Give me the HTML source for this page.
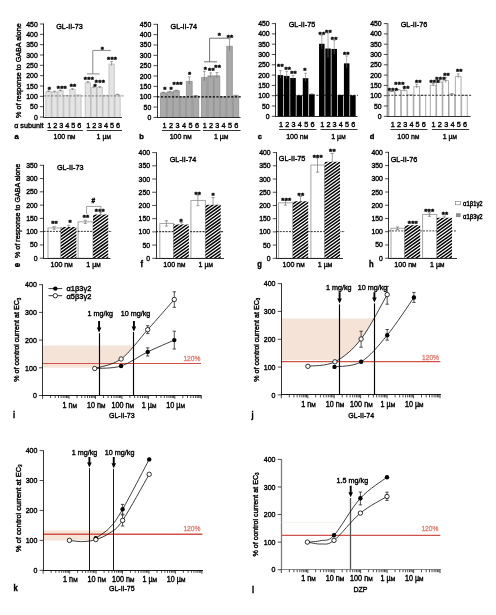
<!DOCTYPE html>
<html lang="en"><head><meta charset="utf-8"><title>Figure</title>
<style>
html,body{margin:0;padding:0;background:#fff;}
body{width:496px;height:615px;overflow:hidden;}
svg{display:block;font-family:'Liberation Sans', Arial, sans-serif;}
</style></head>
<body>
<svg width="496" height="615" viewBox="0 0 496 615" font-family="Liberation Sans, Arial, sans-serif">
<rect width="496" height="615" fill="#fff"/>
<!-- row 1 -->
<rect x="45.90" y="91.58" width="5.37" height="25.42" fill="#e4e4e4" stroke="none" stroke-width="0.6" />
<path d="M45.90 117.00V91.58H51.27V117.00" fill="none" stroke="#a8a8a8" stroke-width="0.6"/>
<line x1="48.58" y1="90.96" x2="48.58" y2="91.95" stroke="#666" stroke-width="0.6" />
<line x1="47.18" y1="90.96" x2="49.98" y2="90.96" stroke="#666" stroke-width="0.6" />
<rect x="51.87" y="91.99" width="5.37" height="25.01" fill="#e4e4e4" stroke="none" stroke-width="0.6" />
<path d="M51.87 117.00V91.99H57.23V117.00" fill="none" stroke="#a8a8a8" stroke-width="0.6"/>
<line x1="54.55" y1="91.17" x2="54.55" y2="92.49" stroke="#666" stroke-width="0.6" />
<line x1="53.15" y1="91.17" x2="55.95" y2="91.17" stroke="#666" stroke-width="0.6" />
<rect x="57.83" y="90.75" width="5.37" height="26.25" fill="#e4e4e4" stroke="none" stroke-width="0.6" />
<path d="M57.83 117.00V90.75H63.20V117.00" fill="none" stroke="#a8a8a8" stroke-width="0.6"/>
<line x1="60.52" y1="90.13" x2="60.52" y2="91.13" stroke="#666" stroke-width="0.6" />
<line x1="59.12" y1="90.13" x2="61.92" y2="90.13" stroke="#666" stroke-width="0.6" />
<rect x="63.80" y="95.51" width="5.37" height="21.49" fill="#e4e4e4" stroke="none" stroke-width="0.6" />
<path d="M63.80 117.00V95.51H69.17V117.00" fill="none" stroke="#a8a8a8" stroke-width="0.6"/>
<rect x="69.77" y="89.51" width="5.37" height="27.49" fill="#e4e4e4" stroke="none" stroke-width="0.6" />
<path d="M69.77 117.00V89.51H75.13V117.00" fill="none" stroke="#a8a8a8" stroke-width="0.6"/>
<line x1="72.45" y1="88.69" x2="72.45" y2="90.01" stroke="#666" stroke-width="0.6" />
<line x1="71.05" y1="88.69" x2="73.85" y2="88.69" stroke="#666" stroke-width="0.6" />
<rect x="75.73" y="94.89" width="5.37" height="22.11" fill="#e4e4e4" stroke="none" stroke-width="0.6" />
<path d="M75.73 117.00V94.89H81.10V117.00" fill="none" stroke="#a8a8a8" stroke-width="0.6"/>
<rect x="85.20" y="82.69" width="5.33" height="34.31" fill="#e4e4e4" stroke="none" stroke-width="0.6" />
<path d="M85.20 117.00V82.69H90.53V117.00" fill="none" stroke="#a8a8a8" stroke-width="0.6"/>
<line x1="87.87" y1="81.66" x2="87.87" y2="83.31" stroke="#666" stroke-width="0.6" />
<line x1="86.47" y1="81.66" x2="89.27" y2="81.66" stroke="#666" stroke-width="0.6" />
<rect x="91.13" y="87.45" width="5.33" height="29.55" fill="#e4e4e4" stroke="none" stroke-width="0.6" />
<path d="M91.13 117.00V87.45H96.47V117.00" fill="none" stroke="#a8a8a8" stroke-width="0.6"/>
<line x1="93.80" y1="86.21" x2="93.80" y2="88.19" stroke="#666" stroke-width="0.6" />
<line x1="92.40" y1="86.21" x2="95.20" y2="86.21" stroke="#666" stroke-width="0.6" />
<rect x="97.07" y="87.45" width="5.33" height="29.55" fill="#e4e4e4" stroke="none" stroke-width="0.6" />
<path d="M97.07 117.00V87.45H102.40V117.00" fill="none" stroke="#a8a8a8" stroke-width="0.6"/>
<line x1="99.73" y1="86.62" x2="99.73" y2="87.94" stroke="#666" stroke-width="0.6" />
<line x1="98.33" y1="86.62" x2="101.13" y2="86.62" stroke="#666" stroke-width="0.6" />
<rect x="103.00" y="95.30" width="5.33" height="21.70" fill="#e4e4e4" stroke="none" stroke-width="0.6" />
<path d="M103.00 117.00V95.30H108.33V117.00" fill="none" stroke="#a8a8a8" stroke-width="0.6"/>
<rect x="108.93" y="64.09" width="5.33" height="52.91" fill="#e4e4e4" stroke="none" stroke-width="0.6" />
<path d="M108.93 117.00V64.09H114.27V117.00" fill="none" stroke="#a8a8a8" stroke-width="0.6"/>
<line x1="111.60" y1="61.61" x2="111.60" y2="65.58" stroke="#666" stroke-width="0.6" />
<line x1="110.20" y1="61.61" x2="113.00" y2="61.61" stroke="#666" stroke-width="0.6" />
<rect x="114.87" y="94.68" width="5.33" height="22.32" fill="#e4e4e4" stroke="none" stroke-width="0.6" />
<path d="M114.87 117.00V94.68H120.20V117.00" fill="none" stroke="#a8a8a8" stroke-width="0.6"/>
<line x1="117.53" y1="94.27" x2="117.53" y2="94.93" stroke="#666" stroke-width="0.6" />
<line x1="116.13" y1="94.27" x2="118.93" y2="94.27" stroke="#666" stroke-width="0.6" />
<line x1="43.70" y1="95.92" x2="123.50" y2="95.92" stroke="#444" stroke-width="0.65" stroke-dasharray="2.2 1.5"/>
<line x1="43.50" y1="23.60" x2="43.50" y2="117.40" stroke="#000" stroke-width="0.8" />
<line x1="43.30" y1="117.50" x2="122.00" y2="117.50" stroke="#000" stroke-width="0.8" />
<line x1="39.90" y1="117.00" x2="43.70" y2="117.00" stroke="#000" stroke-width="0.7" />
<text transform="translate(37.70,119.50) scale(0.88,1)" font-size="7.8" text-anchor="end" font-weight="normal" fill="#000" stroke="#000" stroke-width="0.4" >0</text>
<line x1="39.90" y1="106.67" x2="43.70" y2="106.67" stroke="#000" stroke-width="0.7" />
<text transform="translate(37.70,109.17) scale(0.88,1)" font-size="7.8" text-anchor="end" font-weight="normal" fill="#000" stroke="#000" stroke-width="0.4" >50</text>
<line x1="39.90" y1="96.33" x2="43.70" y2="96.33" stroke="#000" stroke-width="0.7" />
<text transform="translate(37.70,98.83) scale(0.88,1)" font-size="7.8" text-anchor="end" font-weight="normal" fill="#000" stroke="#000" stroke-width="0.4" >100</text>
<line x1="39.90" y1="86.00" x2="43.70" y2="86.00" stroke="#000" stroke-width="0.7" />
<text transform="translate(37.70,88.50) scale(0.88,1)" font-size="7.8" text-anchor="end" font-weight="normal" fill="#000" stroke="#000" stroke-width="0.4" >150</text>
<line x1="39.90" y1="75.67" x2="43.70" y2="75.67" stroke="#000" stroke-width="0.7" />
<text transform="translate(37.70,78.17) scale(0.88,1)" font-size="7.8" text-anchor="end" font-weight="normal" fill="#000" stroke="#000" stroke-width="0.4" >200</text>
<line x1="39.90" y1="65.33" x2="43.70" y2="65.33" stroke="#000" stroke-width="0.7" />
<text transform="translate(37.70,67.83) scale(0.88,1)" font-size="7.8" text-anchor="end" font-weight="normal" fill="#000" stroke="#000" stroke-width="0.4" >250</text>
<line x1="39.90" y1="55.00" x2="43.70" y2="55.00" stroke="#000" stroke-width="0.7" />
<text transform="translate(37.70,57.50) scale(0.88,1)" font-size="7.8" text-anchor="end" font-weight="normal" fill="#000" stroke="#000" stroke-width="0.4" >300</text>
<line x1="39.90" y1="44.67" x2="43.70" y2="44.67" stroke="#000" stroke-width="0.7" />
<text transform="translate(37.70,47.17) scale(0.88,1)" font-size="7.8" text-anchor="end" font-weight="normal" fill="#000" stroke="#000" stroke-width="0.4" >350</text>
<line x1="39.90" y1="34.33" x2="43.70" y2="34.33" stroke="#000" stroke-width="0.7" />
<text transform="translate(37.70,36.83) scale(0.88,1)" font-size="7.8" text-anchor="end" font-weight="normal" fill="#000" stroke="#000" stroke-width="0.4" >400</text>
<line x1="39.90" y1="24.00" x2="43.70" y2="24.00" stroke="#000" stroke-width="0.7" />
<text transform="translate(37.70,26.50) scale(0.88,1)" font-size="7.8" text-anchor="end" font-weight="normal" fill="#000" stroke="#000" stroke-width="0.4" >450</text>
<text transform="translate(69.50,29.00) scale(0.93,1)" font-size="7.8" text-anchor="middle" font-weight="normal" fill="#000" stroke="#000" stroke-width="0.4" >GL-II-73</text>
<text transform="translate(49.42,92.05)" font-size="8.1" text-anchor="middle" font-weight="bold" fill="#000" stroke="#000" stroke-width="0.4" letter-spacing="0.25">*</text>
<text transform="translate(61.82,90.85)" font-size="8.1" text-anchor="middle" font-weight="bold" fill="#000" stroke="#000" stroke-width="0.4" letter-spacing="0.25">***</text>
<text transform="translate(73.12,88.65)" font-size="8.1" text-anchor="middle" font-weight="bold" fill="#000" stroke="#000" stroke-width="0.4" letter-spacing="0.25">**</text>
<text transform="translate(88.92,82.45)" font-size="8.1" text-anchor="middle" font-weight="bold" fill="#000" stroke="#000" stroke-width="0.4" letter-spacing="0.25">***</text>
<text transform="translate(95.32,89.05)" font-size="8.1" text-anchor="middle" font-weight="bold" fill="#000" stroke="#000" stroke-width="0.4" letter-spacing="0.25">*</text>
<text transform="translate(99.92,85.45)" font-size="8.1" text-anchor="middle" font-weight="bold" fill="#000" stroke="#000" stroke-width="0.4" letter-spacing="0.25">***</text>
<text transform="translate(112.12,62.35)" font-size="8.1" text-anchor="middle" font-weight="bold" fill="#000" stroke="#000" stroke-width="0.4" letter-spacing="0.25">***</text>
<path d="M110.8 50.4 H92.8 V73.9 M87 73.9 H99.6" fill="none" stroke="#8a8a8a" stroke-width="1.0"/>
<text transform="translate(102.42,51.85)" font-size="8.1" text-anchor="middle" font-weight="bold" fill="#000" stroke="#000" stroke-width="0.4" letter-spacing="0.25">*</text>
<rect x="160.50" y="92.78" width="5.87" height="24.62" fill="#a9a9a9" stroke="none" stroke-width="0.6" />
<path d="M160.50 117.40V92.78H166.37V117.40" fill="none" stroke="#7a7a7a" stroke-width="0.6"/>
<line x1="163.43" y1="92.16" x2="163.43" y2="93.15" stroke="#666" stroke-width="0.6" />
<line x1="162.03" y1="92.16" x2="164.83" y2="92.16" stroke="#666" stroke-width="0.6" />
<rect x="166.97" y="91.95" width="5.87" height="25.45" fill="#a9a9a9" stroke="none" stroke-width="0.6" />
<path d="M166.97 117.40V91.95H172.83V117.40" fill="none" stroke="#7a7a7a" stroke-width="0.6"/>
<line x1="169.90" y1="91.33" x2="169.90" y2="92.33" stroke="#666" stroke-width="0.6" />
<line x1="168.50" y1="91.33" x2="171.30" y2="91.33" stroke="#666" stroke-width="0.6" />
<rect x="173.43" y="90.71" width="5.87" height="26.69" fill="#a9a9a9" stroke="none" stroke-width="0.6" />
<path d="M173.43 117.40V90.71H179.30V117.40" fill="none" stroke="#7a7a7a" stroke-width="0.6"/>
<line x1="176.37" y1="90.30" x2="176.37" y2="90.96" stroke="#666" stroke-width="0.6" />
<line x1="174.97" y1="90.30" x2="177.77" y2="90.30" stroke="#666" stroke-width="0.6" />
<rect x="179.90" y="96.71" width="5.87" height="20.69" fill="#a9a9a9" stroke="none" stroke-width="0.6" />
<path d="M179.90 117.40V96.71H185.77V117.40" fill="none" stroke="#7a7a7a" stroke-width="0.6"/>
<rect x="186.37" y="81.40" width="5.87" height="36.00" fill="#a9a9a9" stroke="none" stroke-width="0.6" />
<path d="M186.37 117.40V81.40H192.23V117.40" fill="none" stroke="#7a7a7a" stroke-width="0.6"/>
<line x1="189.30" y1="76.85" x2="189.30" y2="84.13" stroke="#666" stroke-width="0.6" />
<line x1="187.90" y1="76.85" x2="190.70" y2="76.85" stroke="#666" stroke-width="0.6" />
<rect x="192.83" y="95.88" width="5.87" height="21.52" fill="#a9a9a9" stroke="none" stroke-width="0.6" />
<path d="M192.83 117.40V95.88H198.70V117.40" fill="none" stroke="#7a7a7a" stroke-width="0.6"/>
<line x1="195.77" y1="95.47" x2="195.77" y2="96.13" stroke="#666" stroke-width="0.6" />
<line x1="194.37" y1="95.47" x2="197.17" y2="95.47" stroke="#666" stroke-width="0.6" />
<rect x="201.50" y="77.47" width="5.70" height="39.93" fill="#a9a9a9" stroke="none" stroke-width="0.6" />
<path d="M201.50 117.40V77.47H207.20V117.40" fill="none" stroke="#7a7a7a" stroke-width="0.6"/>
<line x1="204.35" y1="71.26" x2="204.35" y2="81.19" stroke="#666" stroke-width="0.6" />
<line x1="202.95" y1="71.26" x2="205.75" y2="71.26" stroke="#666" stroke-width="0.6" />
<rect x="207.80" y="75.82" width="5.70" height="41.58" fill="#a9a9a9" stroke="none" stroke-width="0.6" />
<path d="M207.80 117.40V75.82H213.50V117.40" fill="none" stroke="#7a7a7a" stroke-width="0.6"/>
<line x1="210.65" y1="72.92" x2="210.65" y2="77.55" stroke="#666" stroke-width="0.6" />
<line x1="209.25" y1="72.92" x2="212.05" y2="72.92" stroke="#666" stroke-width="0.6" />
<rect x="214.10" y="75.82" width="5.70" height="41.58" fill="#a9a9a9" stroke="none" stroke-width="0.6" />
<path d="M214.10 117.40V75.82H219.80V117.40" fill="none" stroke="#7a7a7a" stroke-width="0.6"/>
<line x1="216.95" y1="72.51" x2="216.95" y2="77.80" stroke="#666" stroke-width="0.6" />
<line x1="215.55" y1="72.51" x2="218.35" y2="72.51" stroke="#666" stroke-width="0.6" />
<rect x="220.40" y="96.71" width="5.70" height="20.69" fill="#a9a9a9" stroke="none" stroke-width="0.6" />
<path d="M220.40 117.40V96.71H226.10V117.40" fill="none" stroke="#7a7a7a" stroke-width="0.6"/>
<rect x="226.70" y="46.23" width="5.70" height="71.17" fill="#a9a9a9" stroke="none" stroke-width="0.6" />
<path d="M226.70 117.40V46.23H232.40V117.40" fill="none" stroke="#7a7a7a" stroke-width="0.6"/>
<line x1="229.55" y1="38.78" x2="229.55" y2="50.70" stroke="#666" stroke-width="0.6" />
<line x1="228.15" y1="38.78" x2="230.95" y2="38.78" stroke="#666" stroke-width="0.6" />
<rect x="233.00" y="95.68" width="5.70" height="21.72" fill="#a9a9a9" stroke="none" stroke-width="0.6" />
<path d="M233.00 117.40V95.68H238.70V117.40" fill="none" stroke="#7a7a7a" stroke-width="0.6"/>
<line x1="235.85" y1="95.26" x2="235.85" y2="95.92" stroke="#666" stroke-width="0.6" />
<line x1="234.45" y1="95.26" x2="237.25" y2="95.26" stroke="#666" stroke-width="0.6" />
<line x1="157.20" y1="96.92" x2="242.00" y2="96.92" stroke="#000" stroke-width="1.3" stroke-dasharray="2.2 1.5"/>
<line x1="157.50" y1="23.90" x2="157.50" y2="117.80" stroke="#000" stroke-width="0.8" />
<line x1="156.80" y1="117.50" x2="240.50" y2="117.50" stroke="#000" stroke-width="0.8" />
<line x1="153.40" y1="117.40" x2="157.20" y2="117.40" stroke="#000" stroke-width="0.7" />
<text transform="translate(151.20,119.90) scale(0.88,1)" font-size="7.8" text-anchor="end" font-weight="normal" fill="#000" stroke="#000" stroke-width="0.4" >0</text>
<line x1="153.40" y1="107.06" x2="157.20" y2="107.06" stroke="#000" stroke-width="0.7" />
<text transform="translate(151.20,109.56) scale(0.88,1)" font-size="7.8" text-anchor="end" font-weight="normal" fill="#000" stroke="#000" stroke-width="0.4" >50</text>
<line x1="153.40" y1="96.71" x2="157.20" y2="96.71" stroke="#000" stroke-width="0.7" />
<text transform="translate(151.20,99.21) scale(0.88,1)" font-size="7.8" text-anchor="end" font-weight="normal" fill="#000" stroke="#000" stroke-width="0.4" >100</text>
<line x1="153.40" y1="86.37" x2="157.20" y2="86.37" stroke="#000" stroke-width="0.7" />
<text transform="translate(151.20,88.87) scale(0.88,1)" font-size="7.8" text-anchor="end" font-weight="normal" fill="#000" stroke="#000" stroke-width="0.4" >150</text>
<line x1="153.40" y1="76.02" x2="157.20" y2="76.02" stroke="#000" stroke-width="0.7" />
<text transform="translate(151.20,78.52) scale(0.88,1)" font-size="7.8" text-anchor="end" font-weight="normal" fill="#000" stroke="#000" stroke-width="0.4" >200</text>
<line x1="153.40" y1="65.68" x2="157.20" y2="65.68" stroke="#000" stroke-width="0.7" />
<text transform="translate(151.20,68.18) scale(0.88,1)" font-size="7.8" text-anchor="end" font-weight="normal" fill="#000" stroke="#000" stroke-width="0.4" >250</text>
<line x1="153.40" y1="55.33" x2="157.20" y2="55.33" stroke="#000" stroke-width="0.7" />
<text transform="translate(151.20,57.83) scale(0.88,1)" font-size="7.8" text-anchor="end" font-weight="normal" fill="#000" stroke="#000" stroke-width="0.4" >300</text>
<line x1="153.40" y1="44.99" x2="157.20" y2="44.99" stroke="#000" stroke-width="0.7" />
<text transform="translate(151.20,47.49) scale(0.88,1)" font-size="7.8" text-anchor="end" font-weight="normal" fill="#000" stroke="#000" stroke-width="0.4" >350</text>
<line x1="153.40" y1="34.64" x2="157.20" y2="34.64" stroke="#000" stroke-width="0.7" />
<text transform="translate(151.20,37.14) scale(0.88,1)" font-size="7.8" text-anchor="end" font-weight="normal" fill="#000" stroke="#000" stroke-width="0.4" >400</text>
<line x1="153.40" y1="24.30" x2="157.20" y2="24.30" stroke="#000" stroke-width="0.7" />
<text transform="translate(151.20,26.80) scale(0.88,1)" font-size="7.8" text-anchor="end" font-weight="normal" fill="#000" stroke="#000" stroke-width="0.4" >450</text>
<text transform="translate(183.80,29.20) scale(0.93,1)" font-size="7.8" text-anchor="middle" font-weight="normal" fill="#000" stroke="#000" stroke-width="0.4" >GL-II-74</text>
<text transform="translate(164.92,92.25)" font-size="8.1" text-anchor="middle" font-weight="bold" fill="#000" stroke="#000" stroke-width="0.4" letter-spacing="0.25">*</text>
<text transform="translate(171.32,92.25)" font-size="8.1" text-anchor="middle" font-weight="bold" fill="#000" stroke="#000" stroke-width="0.4" letter-spacing="0.25">*</text>
<text transform="translate(177.62,87.25)" font-size="8.1" text-anchor="middle" font-weight="bold" fill="#000" stroke="#000" stroke-width="0.4" letter-spacing="0.25">***</text>
<text transform="translate(189.82,77.05)" font-size="8.1" text-anchor="middle" font-weight="bold" fill="#000" stroke="#000" stroke-width="0.4" letter-spacing="0.25">*</text>
<text transform="translate(205.52,71.95)" font-size="8.1" text-anchor="middle" font-weight="bold" fill="#000" stroke="#000" stroke-width="0.4" letter-spacing="0.25">*</text>
<text transform="translate(211.42,73.15)" font-size="8.1" text-anchor="middle" font-weight="bold" fill="#000" stroke="#000" stroke-width="0.4" letter-spacing="0.25">**</text>
<text transform="translate(217.72,70.05)" font-size="8.1" text-anchor="middle" font-weight="bold" fill="#000" stroke="#000" stroke-width="0.4" letter-spacing="0.25">**</text>
<path d="M229.1 38.2 H209.6 V61.8 M204 61.8 H217 " fill="none" stroke="#707070" stroke-width="1.0"/>
<text transform="translate(219.42,38.25)" font-size="8.1" text-anchor="middle" font-weight="bold" fill="#000" stroke="#000" stroke-width="0.4" letter-spacing="0.25">*</text>
<text transform="translate(230.12,40.25)" font-size="8.1" text-anchor="middle" font-weight="bold" fill="#000" stroke="#000" stroke-width="0.4" letter-spacing="0.25">**</text>
<rect x="277.65" y="75.10" width="5.58" height="41.20" fill="#000" stroke="none" stroke-width="0.6" />
<line x1="280.44" y1="70.57" x2="280.44" y2="77.82" stroke="#777" stroke-width="0.6" />
<line x1="279.04" y1="70.57" x2="281.84" y2="70.57" stroke="#777" stroke-width="0.6" />
<rect x="283.93" y="75.92" width="5.58" height="40.38" fill="#000" stroke="none" stroke-width="0.6" />
<line x1="286.73" y1="71.39" x2="286.73" y2="78.64" stroke="#777" stroke-width="0.6" />
<line x1="285.33" y1="71.39" x2="288.12" y2="71.39" stroke="#777" stroke-width="0.6" />
<rect x="290.22" y="77.98" width="5.58" height="38.32" fill="#000" stroke="none" stroke-width="0.6" />
<line x1="293.01" y1="75.51" x2="293.01" y2="79.47" stroke="#777" stroke-width="0.6" />
<line x1="291.61" y1="75.51" x2="294.41" y2="75.51" stroke="#777" stroke-width="0.6" />
<rect x="296.50" y="95.29" width="5.58" height="21.01" fill="#000" stroke="none" stroke-width="0.6" />
<rect x="302.78" y="78.19" width="5.58" height="38.11" fill="#000" stroke="none" stroke-width="0.6" />
<line x1="305.57" y1="73.25" x2="305.57" y2="81.16" stroke="#777" stroke-width="0.6" />
<line x1="304.18" y1="73.25" x2="306.97" y2="73.25" stroke="#777" stroke-width="0.6" />
<rect x="309.07" y="94.26" width="5.58" height="22.04" fill="#000" stroke="none" stroke-width="0.6" />
<line x1="311.86" y1="93.64" x2="311.86" y2="94.63" stroke="#777" stroke-width="0.6" />
<line x1="310.46" y1="93.64" x2="313.26" y2="93.64" stroke="#777" stroke-width="0.6" />
<rect x="319.05" y="43.79" width="5.52" height="72.51" fill="#000" stroke="none" stroke-width="0.6" />
<line x1="321.81" y1="35.55" x2="321.81" y2="48.73" stroke="#777" stroke-width="0.6" />
<line x1="320.41" y1="35.55" x2="323.21" y2="35.55" stroke="#777" stroke-width="0.6" />
<rect x="325.27" y="48.53" width="5.52" height="67.77" fill="#000" stroke="none" stroke-width="0.6" />
<line x1="328.02" y1="33.28" x2="328.02" y2="57.67" stroke="#777" stroke-width="0.6" />
<line x1="326.62" y1="33.28" x2="329.42" y2="33.28" stroke="#777" stroke-width="0.6" />
<rect x="331.48" y="48.94" width="5.52" height="67.36" fill="#000" stroke="none" stroke-width="0.6" />
<line x1="334.24" y1="40.29" x2="334.24" y2="54.13" stroke="#777" stroke-width="0.6" />
<line x1="332.84" y1="40.29" x2="335.64" y2="40.29" stroke="#777" stroke-width="0.6" />
<rect x="337.70" y="94.88" width="5.52" height="21.42" fill="#000" stroke="none" stroke-width="0.6" />
<rect x="343.92" y="63.36" width="5.52" height="52.94" fill="#000" stroke="none" stroke-width="0.6" />
<line x1="346.68" y1="55.94" x2="346.68" y2="67.81" stroke="#777" stroke-width="0.6" />
<line x1="345.28" y1="55.94" x2="348.07" y2="55.94" stroke="#777" stroke-width="0.6" />
<rect x="350.13" y="95.29" width="5.52" height="21.01" fill="#000" stroke="none" stroke-width="0.6" />
<line x1="275.60" y1="95.29" x2="358.00" y2="95.29" stroke="#000" stroke-width="0.8" stroke-dasharray="2.2 1.5"/>
<line x1="275.50" y1="23.20" x2="275.50" y2="116.70" stroke="#000" stroke-width="0.8" />
<line x1="275.20" y1="116.50" x2="357.50" y2="116.50" stroke="#000" stroke-width="0.8" />
<line x1="271.80" y1="116.30" x2="275.60" y2="116.30" stroke="#000" stroke-width="0.7" />
<text transform="translate(269.60,118.80) scale(0.88,1)" font-size="7.8" text-anchor="end" font-weight="normal" fill="#000" stroke="#000" stroke-width="0.4" >0</text>
<line x1="271.80" y1="106.00" x2="275.60" y2="106.00" stroke="#000" stroke-width="0.7" />
<text transform="translate(269.60,108.50) scale(0.88,1)" font-size="7.8" text-anchor="end" font-weight="normal" fill="#000" stroke="#000" stroke-width="0.4" >50</text>
<line x1="271.80" y1="95.70" x2="275.60" y2="95.70" stroke="#000" stroke-width="0.7" />
<text transform="translate(269.60,98.20) scale(0.88,1)" font-size="7.8" text-anchor="end" font-weight="normal" fill="#000" stroke="#000" stroke-width="0.4" >100</text>
<line x1="271.80" y1="85.40" x2="275.60" y2="85.40" stroke="#000" stroke-width="0.7" />
<text transform="translate(269.60,87.90) scale(0.88,1)" font-size="7.8" text-anchor="end" font-weight="normal" fill="#000" stroke="#000" stroke-width="0.4" >150</text>
<line x1="271.80" y1="75.10" x2="275.60" y2="75.10" stroke="#000" stroke-width="0.7" />
<text transform="translate(269.60,77.60) scale(0.88,1)" font-size="7.8" text-anchor="end" font-weight="normal" fill="#000" stroke="#000" stroke-width="0.4" >200</text>
<line x1="271.80" y1="64.80" x2="275.60" y2="64.80" stroke="#000" stroke-width="0.7" />
<text transform="translate(269.60,67.30) scale(0.88,1)" font-size="7.8" text-anchor="end" font-weight="normal" fill="#000" stroke="#000" stroke-width="0.4" >250</text>
<line x1="271.80" y1="54.50" x2="275.60" y2="54.50" stroke="#000" stroke-width="0.7" />
<text transform="translate(269.60,57.00) scale(0.88,1)" font-size="7.8" text-anchor="end" font-weight="normal" fill="#000" stroke="#000" stroke-width="0.4" >300</text>
<line x1="271.80" y1="44.20" x2="275.60" y2="44.20" stroke="#000" stroke-width="0.7" />
<text transform="translate(269.60,46.70) scale(0.88,1)" font-size="7.8" text-anchor="end" font-weight="normal" fill="#000" stroke="#000" stroke-width="0.4" >350</text>
<line x1="271.80" y1="33.90" x2="275.60" y2="33.90" stroke="#000" stroke-width="0.7" />
<text transform="translate(269.60,36.40) scale(0.88,1)" font-size="7.8" text-anchor="end" font-weight="normal" fill="#000" stroke="#000" stroke-width="0.4" >400</text>
<line x1="271.80" y1="23.60" x2="275.60" y2="23.60" stroke="#000" stroke-width="0.7" />
<text transform="translate(269.60,26.10) scale(0.88,1)" font-size="7.8" text-anchor="end" font-weight="normal" fill="#000" stroke="#000" stroke-width="0.4" >450</text>
<text transform="translate(302.00,27.20) scale(0.93,1)" font-size="7.8" text-anchor="middle" font-weight="normal" fill="#000" stroke="#000" stroke-width="0.4" >GL-II-75</text>
<text transform="translate(280.52,69.45)" font-size="8.1" text-anchor="middle" font-weight="bold" fill="#000" stroke="#000" stroke-width="0.4" letter-spacing="0.25">**</text>
<text transform="translate(287.82,71.85)" font-size="8.1" text-anchor="middle" font-weight="bold" fill="#000" stroke="#000" stroke-width="0.4" letter-spacing="0.25">**</text>
<text transform="translate(293.62,76.35)" font-size="8.1" text-anchor="middle" font-weight="bold" fill="#000" stroke="#000" stroke-width="0.4" letter-spacing="0.25">**</text>
<text transform="translate(305.02,73.35)" font-size="8.1" text-anchor="middle" font-weight="bold" fill="#000" stroke="#000" stroke-width="0.4" letter-spacing="0.25">*</text>
<text transform="translate(321.92,37.25)" font-size="8.1" text-anchor="middle" font-weight="bold" fill="#000" stroke="#000" stroke-width="0.4" letter-spacing="0.25">**</text>
<text transform="translate(328.42,34.95)" font-size="8.1" text-anchor="middle" font-weight="bold" fill="#000" stroke="#000" stroke-width="0.4" letter-spacing="0.25">**</text>
<text transform="translate(334.22,42.15)" font-size="8.1" text-anchor="middle" font-weight="bold" fill="#000" stroke="#000" stroke-width="0.4" letter-spacing="0.25">**</text>
<text transform="translate(346.32,57.15)" font-size="8.1" text-anchor="middle" font-weight="bold" fill="#000" stroke="#000" stroke-width="0.4" letter-spacing="0.25">**</text>
<rect x="388.90" y="91.58" width="5.63" height="24.72" fill="#fff" stroke="none" stroke-width="0.6" />
<path d="M388.90 116.30V91.58H394.53V116.30" fill="none" stroke="#777" stroke-width="0.6"/>
<line x1="391.72" y1="91.17" x2="391.72" y2="91.83" stroke="#666" stroke-width="0.6" />
<line x1="390.32" y1="91.17" x2="393.12" y2="91.17" stroke="#666" stroke-width="0.6" />
<rect x="395.13" y="89.93" width="5.63" height="26.37" fill="#fff" stroke="none" stroke-width="0.6" />
<path d="M395.13 116.30V89.93H400.77V116.30" fill="none" stroke="#777" stroke-width="0.6"/>
<line x1="397.95" y1="89.52" x2="397.95" y2="90.18" stroke="#666" stroke-width="0.6" />
<line x1="396.55" y1="89.52" x2="399.35" y2="89.52" stroke="#666" stroke-width="0.6" />
<rect x="401.37" y="90.34" width="5.63" height="25.96" fill="#fff" stroke="none" stroke-width="0.6" />
<path d="M401.37 116.30V90.34H407.00V116.30" fill="none" stroke="#777" stroke-width="0.6"/>
<line x1="404.18" y1="88.70" x2="404.18" y2="91.33" stroke="#666" stroke-width="0.6" />
<line x1="402.78" y1="88.70" x2="405.58" y2="88.70" stroke="#666" stroke-width="0.6" />
<rect x="407.60" y="94.88" width="5.63" height="21.42" fill="#fff" stroke="none" stroke-width="0.6" />
<path d="M407.60 116.30V94.88H413.23V116.30" fill="none" stroke="#777" stroke-width="0.6"/>
<rect x="413.83" y="86.64" width="5.63" height="29.66" fill="#fff" stroke="none" stroke-width="0.6" />
<path d="M413.83 116.30V86.64H419.47V116.30" fill="none" stroke="#777" stroke-width="0.6"/>
<line x1="416.65" y1="84.16" x2="416.65" y2="88.12" stroke="#666" stroke-width="0.6" />
<line x1="415.25" y1="84.16" x2="418.05" y2="84.16" stroke="#666" stroke-width="0.6" />
<rect x="420.07" y="95.29" width="5.63" height="21.01" fill="#fff" stroke="none" stroke-width="0.6" />
<path d="M420.07 116.30V95.29H425.70V116.30" fill="none" stroke="#777" stroke-width="0.6"/>
<rect x="430.30" y="85.19" width="5.67" height="31.11" fill="#fff" stroke="none" stroke-width="0.6" />
<path d="M430.30 116.30V85.19H435.97V116.30" fill="none" stroke="#777" stroke-width="0.6"/>
<line x1="433.13" y1="83.55" x2="433.13" y2="86.18" stroke="#666" stroke-width="0.6" />
<line x1="431.73" y1="83.55" x2="434.53" y2="83.55" stroke="#666" stroke-width="0.6" />
<rect x="436.57" y="82.10" width="5.67" height="34.20" fill="#fff" stroke="none" stroke-width="0.6" />
<path d="M436.57 116.30V82.10H442.23V116.30" fill="none" stroke="#777" stroke-width="0.6"/>
<line x1="439.40" y1="80.46" x2="439.40" y2="83.09" stroke="#666" stroke-width="0.6" />
<line x1="438.00" y1="80.46" x2="440.80" y2="80.46" stroke="#666" stroke-width="0.6" />
<rect x="442.83" y="80.66" width="5.67" height="35.64" fill="#fff" stroke="none" stroke-width="0.6" />
<path d="M442.83 116.30V80.66H448.50V116.30" fill="none" stroke="#777" stroke-width="0.6"/>
<line x1="445.67" y1="77.37" x2="445.67" y2="82.64" stroke="#666" stroke-width="0.6" />
<line x1="444.27" y1="77.37" x2="447.07" y2="77.37" stroke="#666" stroke-width="0.6" />
<rect x="449.10" y="94.26" width="5.67" height="22.04" fill="#fff" stroke="none" stroke-width="0.6" />
<path d="M449.10 116.30V94.26H454.77V116.30" fill="none" stroke="#777" stroke-width="0.6"/>
<line x1="451.93" y1="93.64" x2="451.93" y2="94.63" stroke="#666" stroke-width="0.6" />
<line x1="450.53" y1="93.64" x2="453.33" y2="93.64" stroke="#666" stroke-width="0.6" />
<rect x="455.37" y="76.34" width="5.67" height="39.96" fill="#fff" stroke="none" stroke-width="0.6" />
<path d="M455.37 116.30V76.34H461.03V116.30" fill="none" stroke="#777" stroke-width="0.6"/>
<line x1="458.20" y1="73.86" x2="458.20" y2="77.82" stroke="#666" stroke-width="0.6" />
<line x1="456.80" y1="73.86" x2="459.60" y2="73.86" stroke="#666" stroke-width="0.6" />
<rect x="461.63" y="95.29" width="5.67" height="21.01" fill="#fff" stroke="none" stroke-width="0.6" />
<path d="M461.63 116.30V95.29H467.30V116.30" fill="none" stroke="#777" stroke-width="0.6"/>
<line x1="387.60" y1="95.29" x2="472.00" y2="95.29" stroke="#000" stroke-width="0.8" stroke-dasharray="2.2 1.5"/>
<line x1="387.60" y1="23.20" x2="387.60" y2="116.70" stroke="#999" stroke-width="2.0" />
<line x1="387.20" y1="116.50" x2="470.60" y2="116.50" stroke="#000" stroke-width="0.8" />
<line x1="383.80" y1="116.30" x2="387.60" y2="116.30" stroke="#000" stroke-width="0.7" />
<text transform="translate(381.60,118.80) scale(0.88,1)" font-size="7.8" text-anchor="end" font-weight="normal" fill="#000" stroke="#000" stroke-width="0.4" >0</text>
<line x1="383.80" y1="106.00" x2="387.60" y2="106.00" stroke="#000" stroke-width="0.7" />
<text transform="translate(381.60,108.50) scale(0.88,1)" font-size="7.8" text-anchor="end" font-weight="normal" fill="#000" stroke="#000" stroke-width="0.4" >50</text>
<line x1="383.80" y1="95.70" x2="387.60" y2="95.70" stroke="#000" stroke-width="0.7" />
<text transform="translate(381.60,98.20) scale(0.88,1)" font-size="7.8" text-anchor="end" font-weight="normal" fill="#000" stroke="#000" stroke-width="0.4" >100</text>
<line x1="383.80" y1="85.40" x2="387.60" y2="85.40" stroke="#000" stroke-width="0.7" />
<text transform="translate(381.60,87.90) scale(0.88,1)" font-size="7.8" text-anchor="end" font-weight="normal" fill="#000" stroke="#000" stroke-width="0.4" >150</text>
<line x1="383.80" y1="75.10" x2="387.60" y2="75.10" stroke="#000" stroke-width="0.7" />
<text transform="translate(381.60,77.60) scale(0.88,1)" font-size="7.8" text-anchor="end" font-weight="normal" fill="#000" stroke="#000" stroke-width="0.4" >200</text>
<line x1="383.80" y1="64.80" x2="387.60" y2="64.80" stroke="#000" stroke-width="0.7" />
<text transform="translate(381.60,67.30) scale(0.88,1)" font-size="7.8" text-anchor="end" font-weight="normal" fill="#000" stroke="#000" stroke-width="0.4" >250</text>
<line x1="383.80" y1="54.50" x2="387.60" y2="54.50" stroke="#000" stroke-width="0.7" />
<text transform="translate(381.60,57.00) scale(0.88,1)" font-size="7.8" text-anchor="end" font-weight="normal" fill="#000" stroke="#000" stroke-width="0.4" >300</text>
<line x1="383.80" y1="44.20" x2="387.60" y2="44.20" stroke="#000" stroke-width="0.7" />
<text transform="translate(381.60,46.70) scale(0.88,1)" font-size="7.8" text-anchor="end" font-weight="normal" fill="#000" stroke="#000" stroke-width="0.4" >350</text>
<line x1="383.80" y1="33.90" x2="387.60" y2="33.90" stroke="#000" stroke-width="0.7" />
<text transform="translate(381.60,36.40) scale(0.88,1)" font-size="7.8" text-anchor="end" font-weight="normal" fill="#000" stroke="#000" stroke-width="0.4" >400</text>
<line x1="383.80" y1="23.60" x2="387.60" y2="23.60" stroke="#000" stroke-width="0.7" />
<text transform="translate(381.60,26.10) scale(0.88,1)" font-size="7.8" text-anchor="end" font-weight="normal" fill="#000" stroke="#000" stroke-width="0.4" >450</text>
<text transform="translate(414.00,27.20) scale(0.93,1)" font-size="7.8" text-anchor="middle" font-weight="normal" fill="#000" stroke="#000" stroke-width="0.4" >GL-II-76</text>
<text transform="translate(392.92,92.55)" font-size="8.1" text-anchor="middle" font-weight="bold" fill="#000" stroke="#000" stroke-width="0.4" letter-spacing="0.25">***</text>
<text transform="translate(399.42,87.45)" font-size="8.1" text-anchor="middle" font-weight="bold" fill="#000" stroke="#000" stroke-width="0.4" letter-spacing="0.25">***</text>
<text transform="translate(406.22,91.35)" font-size="8.1" text-anchor="middle" font-weight="bold" fill="#000" stroke="#000" stroke-width="0.4" letter-spacing="0.25">**</text>
<text transform="translate(418.32,85.45)" font-size="8.1" text-anchor="middle" font-weight="bold" fill="#000" stroke="#000" stroke-width="0.4" letter-spacing="0.25">**</text>
<text transform="translate(434.52,85.45)" font-size="8.1" text-anchor="middle" font-weight="bold" fill="#000" stroke="#000" stroke-width="0.4" letter-spacing="0.25">***</text>
<text transform="translate(440.42,81.55)" font-size="8.1" text-anchor="middle" font-weight="bold" fill="#000" stroke="#000" stroke-width="0.4" letter-spacing="0.25">***</text>
<text transform="translate(446.62,77.65)" font-size="8.1" text-anchor="middle" font-weight="bold" fill="#000" stroke="#000" stroke-width="0.4" letter-spacing="0.25">**</text>
<text transform="translate(459.32,74.35)" font-size="8.1" text-anchor="middle" font-weight="bold" fill="#000" stroke="#000" stroke-width="0.4" letter-spacing="0.25">**</text>
<text transform="translate(49.38,127.90) scale(0.9,1)" font-size="8.1" text-anchor="middle" font-weight="normal" fill="#000" stroke="#000" stroke-width="0.4" >1</text>
<text transform="translate(55.35,127.90) scale(0.9,1)" font-size="8.1" text-anchor="middle" font-weight="normal" fill="#000" stroke="#000" stroke-width="0.4" >2</text>
<text transform="translate(61.32,127.90) scale(0.9,1)" font-size="8.1" text-anchor="middle" font-weight="normal" fill="#000" stroke="#000" stroke-width="0.4" >3</text>
<text transform="translate(67.28,127.90) scale(0.9,1)" font-size="8.1" text-anchor="middle" font-weight="normal" fill="#000" stroke="#000" stroke-width="0.4" >4</text>
<text transform="translate(73.25,127.90) scale(0.9,1)" font-size="8.1" text-anchor="middle" font-weight="normal" fill="#000" stroke="#000" stroke-width="0.4" >5</text>
<text transform="translate(79.22,127.90) scale(0.9,1)" font-size="8.1" text-anchor="middle" font-weight="normal" fill="#000" stroke="#000" stroke-width="0.4" >6</text>
<line x1="47.40" y1="130.50" x2="82.90" y2="130.50" stroke="#000" stroke-width="0.8" />
<text transform="translate(88.27,127.90) scale(0.9,1)" font-size="8.1" text-anchor="middle" font-weight="normal" fill="#000" stroke="#000" stroke-width="0.4" >1</text>
<text transform="translate(94.20,127.90) scale(0.9,1)" font-size="8.1" text-anchor="middle" font-weight="normal" fill="#000" stroke="#000" stroke-width="0.4" >2</text>
<text transform="translate(100.13,127.90) scale(0.9,1)" font-size="8.1" text-anchor="middle" font-weight="normal" fill="#000" stroke="#000" stroke-width="0.4" >3</text>
<text transform="translate(106.07,127.90) scale(0.9,1)" font-size="8.1" text-anchor="middle" font-weight="normal" fill="#000" stroke="#000" stroke-width="0.4" >4</text>
<text transform="translate(112.00,127.90) scale(0.9,1)" font-size="8.1" text-anchor="middle" font-weight="normal" fill="#000" stroke="#000" stroke-width="0.4" >5</text>
<text transform="translate(117.93,127.90) scale(0.9,1)" font-size="8.1" text-anchor="middle" font-weight="normal" fill="#000" stroke="#000" stroke-width="0.4" >6</text>
<line x1="86.70" y1="130.50" x2="122.00" y2="130.50" stroke="#000" stroke-width="0.8" />
<text transform="translate(64.50,138.90) scale(0.88,1)" font-size="8.0" text-anchor="middle" font-weight="normal" fill="#000" stroke="#000" stroke-width="0.4" >100 n<tspan font-size="0.74em">M</tspan></text>
<text transform="translate(103.70,138.90) scale(0.88,1)" font-size="8.0" text-anchor="middle" font-weight="normal" fill="#000" stroke="#000" stroke-width="0.4" >1 µ<tspan font-size="0.74em">M</tspan></text>
<text transform="translate(14.40,138.80) scale(0.95,1)" font-size="8.0" text-anchor="start" font-weight="bold" fill="#000" stroke="#000" stroke-width="0.4" >a</text>
<text transform="translate(164.63,127.60) scale(0.9,1)" font-size="8.1" text-anchor="middle" font-weight="normal" fill="#000" stroke="#000" stroke-width="0.4" >1</text>
<text transform="translate(171.10,127.60) scale(0.9,1)" font-size="8.1" text-anchor="middle" font-weight="normal" fill="#000" stroke="#000" stroke-width="0.4" >2</text>
<text transform="translate(177.57,127.60) scale(0.9,1)" font-size="8.1" text-anchor="middle" font-weight="normal" fill="#000" stroke="#000" stroke-width="0.4" >3</text>
<text transform="translate(184.03,127.60) scale(0.9,1)" font-size="8.1" text-anchor="middle" font-weight="normal" fill="#000" stroke="#000" stroke-width="0.4" >4</text>
<text transform="translate(190.50,127.60) scale(0.9,1)" font-size="8.1" text-anchor="middle" font-weight="normal" fill="#000" stroke="#000" stroke-width="0.4" >5</text>
<text transform="translate(196.97,127.60) scale(0.9,1)" font-size="8.1" text-anchor="middle" font-weight="normal" fill="#000" stroke="#000" stroke-width="0.4" >6</text>
<line x1="162.00" y1="130.50" x2="200.50" y2="130.50" stroke="#000" stroke-width="0.8" />
<text transform="translate(204.75,127.60) scale(0.9,1)" font-size="8.1" text-anchor="middle" font-weight="normal" fill="#000" stroke="#000" stroke-width="0.4" >1</text>
<text transform="translate(211.05,127.60) scale(0.9,1)" font-size="8.1" text-anchor="middle" font-weight="normal" fill="#000" stroke="#000" stroke-width="0.4" >2</text>
<text transform="translate(217.35,127.60) scale(0.9,1)" font-size="8.1" text-anchor="middle" font-weight="normal" fill="#000" stroke="#000" stroke-width="0.4" >3</text>
<text transform="translate(223.65,127.60) scale(0.9,1)" font-size="8.1" text-anchor="middle" font-weight="normal" fill="#000" stroke="#000" stroke-width="0.4" >4</text>
<text transform="translate(229.95,127.60) scale(0.9,1)" font-size="8.1" text-anchor="middle" font-weight="normal" fill="#000" stroke="#000" stroke-width="0.4" >5</text>
<text transform="translate(236.25,127.60) scale(0.9,1)" font-size="8.1" text-anchor="middle" font-weight="normal" fill="#000" stroke="#000" stroke-width="0.4" >6</text>
<line x1="203.00" y1="130.50" x2="240.50" y2="130.50" stroke="#000" stroke-width="0.8" />
<text transform="translate(180.60,138.90) scale(0.88,1)" font-size="8.0" text-anchor="middle" font-weight="normal" fill="#000" stroke="#000" stroke-width="0.4" >100 n<tspan font-size="0.74em">M</tspan></text>
<text transform="translate(221.10,138.90) scale(0.88,1)" font-size="8.0" text-anchor="middle" font-weight="normal" fill="#000" stroke="#000" stroke-width="0.4" >1 µ<tspan font-size="0.74em">M</tspan></text>
<text transform="translate(139.20,139.00) scale(0.95,1)" font-size="8.0" text-anchor="start" font-weight="bold" fill="#000" stroke="#000" stroke-width="0.4" >b</text>
<text transform="translate(281.04,127.20) scale(0.9,1)" font-size="8.1" text-anchor="middle" font-weight="normal" fill="#000" stroke="#000" stroke-width="0.4" >1</text>
<text transform="translate(287.33,127.20) scale(0.9,1)" font-size="8.1" text-anchor="middle" font-weight="normal" fill="#000" stroke="#000" stroke-width="0.4" >2</text>
<text transform="translate(293.61,127.20) scale(0.9,1)" font-size="8.1" text-anchor="middle" font-weight="normal" fill="#000" stroke="#000" stroke-width="0.4" >3</text>
<text transform="translate(299.89,127.20) scale(0.9,1)" font-size="8.1" text-anchor="middle" font-weight="normal" fill="#000" stroke="#000" stroke-width="0.4" >4</text>
<text transform="translate(306.18,127.20) scale(0.9,1)" font-size="8.1" text-anchor="middle" font-weight="normal" fill="#000" stroke="#000" stroke-width="0.4" >5</text>
<text transform="translate(312.46,127.20) scale(0.9,1)" font-size="8.1" text-anchor="middle" font-weight="normal" fill="#000" stroke="#000" stroke-width="0.4" >6</text>
<line x1="279.10" y1="129.50" x2="316.50" y2="129.50" stroke="#000" stroke-width="0.8" />
<text transform="translate(322.21,127.20) scale(0.9,1)" font-size="8.1" text-anchor="middle" font-weight="normal" fill="#000" stroke="#000" stroke-width="0.4" >1</text>
<text transform="translate(328.42,127.20) scale(0.9,1)" font-size="8.1" text-anchor="middle" font-weight="normal" fill="#000" stroke="#000" stroke-width="0.4" >2</text>
<text transform="translate(334.64,127.20) scale(0.9,1)" font-size="8.1" text-anchor="middle" font-weight="normal" fill="#000" stroke="#000" stroke-width="0.4" >3</text>
<text transform="translate(340.86,127.20) scale(0.9,1)" font-size="8.1" text-anchor="middle" font-weight="normal" fill="#000" stroke="#000" stroke-width="0.4" >4</text>
<text transform="translate(347.07,127.20) scale(0.9,1)" font-size="8.1" text-anchor="middle" font-weight="normal" fill="#000" stroke="#000" stroke-width="0.4" >5</text>
<text transform="translate(353.29,127.20) scale(0.9,1)" font-size="8.1" text-anchor="middle" font-weight="normal" fill="#000" stroke="#000" stroke-width="0.4" >6</text>
<line x1="320.50" y1="129.50" x2="357.50" y2="129.50" stroke="#000" stroke-width="0.8" />
<text transform="translate(297.15,138.80) scale(0.88,1)" font-size="8.0" text-anchor="middle" font-weight="normal" fill="#000" stroke="#000" stroke-width="0.4" >100 n<tspan font-size="0.74em">M</tspan></text>
<text transform="translate(338.35,138.80) scale(0.88,1)" font-size="8.0" text-anchor="middle" font-weight="normal" fill="#000" stroke="#000" stroke-width="0.4" >1 µ<tspan font-size="0.74em">M</tspan></text>
<text transform="translate(257.80,138.80) scale(0.95,1)" font-size="8.0" text-anchor="start" font-weight="bold" fill="#000" stroke="#000" stroke-width="0.4" >c</text>
<text transform="translate(392.72,127.20) scale(0.9,1)" font-size="8.1" text-anchor="middle" font-weight="normal" fill="#000" stroke="#000" stroke-width="0.4" >1</text>
<text transform="translate(398.95,127.20) scale(0.9,1)" font-size="8.1" text-anchor="middle" font-weight="normal" fill="#000" stroke="#000" stroke-width="0.4" >2</text>
<text transform="translate(405.18,127.20) scale(0.9,1)" font-size="8.1" text-anchor="middle" font-weight="normal" fill="#000" stroke="#000" stroke-width="0.4" >3</text>
<text transform="translate(411.42,127.20) scale(0.9,1)" font-size="8.1" text-anchor="middle" font-weight="normal" fill="#000" stroke="#000" stroke-width="0.4" >4</text>
<text transform="translate(417.65,127.20) scale(0.9,1)" font-size="8.1" text-anchor="middle" font-weight="normal" fill="#000" stroke="#000" stroke-width="0.4" >5</text>
<text transform="translate(423.88,127.20) scale(0.9,1)" font-size="8.1" text-anchor="middle" font-weight="normal" fill="#000" stroke="#000" stroke-width="0.4" >6</text>
<line x1="390.40" y1="129.50" x2="427.50" y2="129.50" stroke="#000" stroke-width="0.8" />
<text transform="translate(433.63,127.20) scale(0.9,1)" font-size="8.1" text-anchor="middle" font-weight="normal" fill="#000" stroke="#000" stroke-width="0.4" >1</text>
<text transform="translate(439.90,127.20) scale(0.9,1)" font-size="8.1" text-anchor="middle" font-weight="normal" fill="#000" stroke="#000" stroke-width="0.4" >2</text>
<text transform="translate(446.17,127.20) scale(0.9,1)" font-size="8.1" text-anchor="middle" font-weight="normal" fill="#000" stroke="#000" stroke-width="0.4" >3</text>
<text transform="translate(452.43,127.20) scale(0.9,1)" font-size="8.1" text-anchor="middle" font-weight="normal" fill="#000" stroke="#000" stroke-width="0.4" >4</text>
<text transform="translate(458.70,127.20) scale(0.9,1)" font-size="8.1" text-anchor="middle" font-weight="normal" fill="#000" stroke="#000" stroke-width="0.4" >5</text>
<text transform="translate(464.97,127.20) scale(0.9,1)" font-size="8.1" text-anchor="middle" font-weight="normal" fill="#000" stroke="#000" stroke-width="0.4" >6</text>
<line x1="431.80" y1="129.50" x2="469.10" y2="129.50" stroke="#000" stroke-width="0.8" />
<text transform="translate(408.30,138.80) scale(0.88,1)" font-size="8.0" text-anchor="middle" font-weight="normal" fill="#000" stroke="#000" stroke-width="0.4" >100 n<tspan font-size="0.74em">M</tspan></text>
<text transform="translate(449.80,138.80) scale(0.88,1)" font-size="8.0" text-anchor="middle" font-weight="normal" fill="#000" stroke="#000" stroke-width="0.4" >1 µ<tspan font-size="0.74em">M</tspan></text>
<text transform="translate(369.80,138.80) scale(0.95,1)" font-size="8.0" text-anchor="start" font-weight="bold" fill="#000" stroke="#000" stroke-width="0.4" >d</text>
<text transform="translate(14.20,127.90) scale(0.9,1)" font-size="8.0" text-anchor="start" font-weight="normal" fill="#000" stroke="#000" stroke-width="0.4" >α subunit</text>
<text transform="translate(20.90,70.60) rotate(-90) scale(0.895,1)" font-size="8.0" text-anchor="middle" font-weight="normal" fill="#000" stroke="#000" stroke-width="0.4" >% of response to GABA alone</text>
<!-- row 2 -->
<rect x="48.00" y="227.94" width="12.80" height="30.26" fill="#fff" stroke="#a6a6a6" stroke-width="1.0" />
<line x1="54.15" y1="226.61" x2="54.15" y2="229.27" stroke="#777" stroke-width="0.7" />
<line x1="52.55" y1="226.61" x2="55.75" y2="226.61" stroke="#777" stroke-width="0.7" />
<line x1="52.55" y1="229.27" x2="55.75" y2="229.27" stroke="#777" stroke-width="0.7" />
<rect x="78.10" y="221.84" width="14.90" height="36.36" fill="#fff" stroke="#a6a6a6" stroke-width="1.0" />
<line x1="85.30" y1="220.24" x2="85.30" y2="223.43" stroke="#777" stroke-width="0.7" />
<line x1="83.70" y1="220.24" x2="86.90" y2="220.24" stroke="#777" stroke-width="0.7" />
<line x1="83.70" y1="223.43" x2="86.90" y2="223.43" stroke="#777" stroke-width="0.7" />
<line x1="43.60" y1="231.39" x2="112.00" y2="231.39" stroke="#000" stroke-width="0.8" stroke-dasharray="2 1.1"/>
<clipPath id="hc1"><rect x="60.80" y="226.88" width="15.60" height="31.32"/></clipPath>
<g clip-path="url(#hc1)"><rect x="60.80" y="226.88" width="15.60" height="31.32" fill="#fff"/><path d="M59.80 224.49L77.40 211.89M59.80 227.69L77.40 215.09M59.80 230.89L77.40 218.29M59.80 234.09L77.40 221.49M59.80 237.29L77.40 224.69M59.80 240.49L77.40 227.89M59.80 243.69L77.40 231.09M59.80 246.89L77.40 234.29M59.80 250.09L77.40 237.49M59.80 253.29L77.40 240.69M59.80 256.49L77.40 243.89M59.80 259.69L77.40 247.09M59.80 262.89L77.40 250.29M59.80 266.09L77.40 253.49M59.80 269.29L77.40 256.69M59.80 272.49L77.40 259.89" stroke="#000" stroke-width="1.46" fill="none"/></g>
<clipPath id="hc2"><rect x="93.00" y="214.40" width="15.20" height="43.80"/></clipPath>
<g clip-path="url(#hc2)"><rect x="93.00" y="214.40" width="15.20" height="43.80" fill="#fff"/><path d="M92.00 214.33L109.20 202.02M92.00 217.53L109.20 205.22M92.00 220.73L109.20 208.42M92.00 223.93L109.20 211.62M92.00 227.13L109.20 214.82M92.00 230.33L109.20 218.02M92.00 233.53L109.20 221.22M92.00 236.73L109.20 224.42M92.00 239.93L109.20 227.62M92.00 243.13L109.20 230.82M92.00 246.33L109.20 234.02M92.00 249.53L109.20 237.22M92.00 252.73L109.20 240.42M92.00 255.93L109.20 243.62M92.00 259.13L109.20 246.82M92.00 262.33L109.20 250.02M92.00 265.53L109.20 253.22M92.00 268.73L109.20 256.42M92.00 271.93L109.20 259.62" stroke="#000" stroke-width="1.46" fill="none"/></g>
<line x1="68.60" y1="225.29" x2="68.60" y2="226.88" stroke="#777" stroke-width="0.7" />
<line x1="67.00" y1="225.29" x2="70.20" y2="225.29" stroke="#777" stroke-width="0.7" />
<line x1="100.60" y1="212.28" x2="100.60" y2="214.40" stroke="#777" stroke-width="0.7" />
<line x1="99.00" y1="212.28" x2="102.20" y2="212.28" stroke="#777" stroke-width="0.7" />
<line x1="43.50" y1="164.90" x2="43.50" y2="258.60" stroke="#000" stroke-width="0.8" />
<line x1="43.20" y1="258.50" x2="110.50" y2="258.50" stroke="#000" stroke-width="0.8" />
<line x1="39.80" y1="258.20" x2="43.60" y2="258.20" stroke="#000" stroke-width="0.7" />
<text transform="translate(37.60,260.70) scale(0.88,1)" font-size="7.8" text-anchor="end" font-weight="normal" fill="#000" stroke="#000" stroke-width="0.4" >0</text>
<line x1="39.80" y1="244.93" x2="43.60" y2="244.93" stroke="#000" stroke-width="0.7" />
<text transform="translate(37.60,247.43) scale(0.88,1)" font-size="7.8" text-anchor="end" font-weight="normal" fill="#000" stroke="#000" stroke-width="0.4" >50</text>
<line x1="39.80" y1="231.66" x2="43.60" y2="231.66" stroke="#000" stroke-width="0.7" />
<text transform="translate(37.60,234.16) scale(0.88,1)" font-size="7.8" text-anchor="end" font-weight="normal" fill="#000" stroke="#000" stroke-width="0.4" >100</text>
<line x1="39.80" y1="218.39" x2="43.60" y2="218.39" stroke="#000" stroke-width="0.7" />
<text transform="translate(37.60,220.89) scale(0.88,1)" font-size="7.8" text-anchor="end" font-weight="normal" fill="#000" stroke="#000" stroke-width="0.4" >150</text>
<line x1="39.80" y1="205.11" x2="43.60" y2="205.11" stroke="#000" stroke-width="0.7" />
<text transform="translate(37.60,207.61) scale(0.88,1)" font-size="7.8" text-anchor="end" font-weight="normal" fill="#000" stroke="#000" stroke-width="0.4" >200</text>
<line x1="39.80" y1="191.84" x2="43.60" y2="191.84" stroke="#000" stroke-width="0.7" />
<text transform="translate(37.60,194.34) scale(0.88,1)" font-size="7.8" text-anchor="end" font-weight="normal" fill="#000" stroke="#000" stroke-width="0.4" >250</text>
<line x1="39.80" y1="178.57" x2="43.60" y2="178.57" stroke="#000" stroke-width="0.7" />
<text transform="translate(37.60,181.07) scale(0.88,1)" font-size="7.8" text-anchor="end" font-weight="normal" fill="#000" stroke="#000" stroke-width="0.4" >300</text>
<line x1="39.80" y1="165.30" x2="43.60" y2="165.30" stroke="#000" stroke-width="0.7" />
<text transform="translate(37.60,167.80) scale(0.88,1)" font-size="7.8" text-anchor="end" font-weight="normal" fill="#000" stroke="#000" stroke-width="0.4" >350</text>
<text transform="translate(70.20,170.00) scale(0.93,1)" font-size="7.8" text-anchor="middle" font-weight="normal" fill="#000" stroke="#000" stroke-width="0.4" >GL-II-73</text>
<text transform="translate(54.62,226.25)" font-size="8.1" text-anchor="middle" font-weight="bold" fill="#000" stroke="#000" stroke-width="0.4" letter-spacing="0.25">**</text>
<text transform="translate(70.32,225.25)" font-size="8.1" text-anchor="middle" font-weight="bold" fill="#000" stroke="#000" stroke-width="0.4" letter-spacing="0.25">*</text>
<text transform="translate(86.12,219.95)" font-size="8.1" text-anchor="middle" font-weight="bold" fill="#000" stroke="#000" stroke-width="0.4" letter-spacing="0.25">**</text>
<text transform="translate(99.82,213.55)" font-size="8.1" text-anchor="middle" font-weight="bold" fill="#000" stroke="#000" stroke-width="0.4" letter-spacing="0.25">***</text>
<text transform="translate(61.60,267.30) scale(0.88,1)" font-size="8.1" text-anchor="middle" font-weight="normal" fill="#000" stroke="#000" stroke-width="0.4" >100 n<tspan font-size="0.74em">M</tspan></text>
<text transform="translate(93.40,267.30) scale(0.88,1)" font-size="8.1" text-anchor="middle" font-weight="normal" fill="#000" stroke="#000" stroke-width="0.4" >1 µ<tspan font-size="0.74em">M</tspan></text>
<path d="M86.6 214 V206.4 H101 V211.6" fill="none" stroke="#777" stroke-width="0.7"/>
<text transform="translate(93.40,203.00) scale(0.88,1)" font-size="7.4" text-anchor="middle" font-weight="bold" fill="#000" stroke="#000" stroke-width="0.4" >#</text>
<text transform="translate(19.60,210.90) rotate(-90) scale(0.89,1)" font-size="8.0" text-anchor="middle" font-weight="normal" fill="#000" stroke="#000" stroke-width="0.4" >% of response to GABA alone</text>
<text transform="translate(19.80,265.00) rotate(-90) scale(0.88,1)" font-size="9.0" text-anchor="middle" font-weight="bold" fill="#000" stroke="#000" stroke-width="0.4" >e</text>
<rect x="159.80" y="223.42" width="13.70" height="34.88" fill="#fff" stroke="#a6a6a6" stroke-width="1.0" />
<line x1="166.40" y1="220.78" x2="166.40" y2="226.06" stroke="#777" stroke-width="0.7" />
<line x1="164.80" y1="220.78" x2="168.00" y2="220.78" stroke="#777" stroke-width="0.7" />
<line x1="164.80" y1="226.06" x2="168.00" y2="226.06" stroke="#777" stroke-width="0.7" />
<rect x="190.90" y="200.43" width="14.50" height="57.87" fill="#fff" stroke="#a6a6a6" stroke-width="1.0" />
<line x1="197.90" y1="195.14" x2="197.90" y2="205.71" stroke="#777" stroke-width="0.7" />
<line x1="196.30" y1="195.14" x2="199.50" y2="195.14" stroke="#777" stroke-width="0.7" />
<line x1="196.30" y1="205.71" x2="199.50" y2="205.71" stroke="#777" stroke-width="0.7" />
<line x1="156.00" y1="231.61" x2="224.00" y2="231.61" stroke="#3a3a3a" stroke-width="1.3" stroke-dasharray="2 1.1"/>
<clipPath id="hc3"><rect x="173.50" y="224.48" width="15.40" height="33.82"/></clipPath>
<g clip-path="url(#hc3)"><rect x="173.50" y="224.48" width="15.40" height="33.82" fill="#fff"/><path d="M172.50 222.19L189.90 209.73M172.50 225.39L189.90 212.93M172.50 228.59L189.90 216.13M172.50 231.79L189.90 219.33M172.50 234.99L189.90 222.53M172.50 238.19L189.90 225.73M172.50 241.39L189.90 228.93M172.50 244.59L189.90 232.13M172.50 247.79L189.90 235.33M172.50 250.99L189.90 238.53M172.50 254.19L189.90 241.73M172.50 257.39L189.90 244.93M172.50 260.59L189.90 248.13M172.50 263.79L189.90 251.33M172.50 266.99L189.90 254.53M172.50 270.19L189.90 257.73" stroke="#000" stroke-width="1.46" fill="none"/></g>
<clipPath id="hc4"><rect x="205.40" y="204.66" width="15.30" height="53.64"/></clipPath>
<g clip-path="url(#hc4)"><rect x="205.40" y="204.66" width="15.30" height="53.64" fill="#fff"/><path d="M204.40 204.57L221.70 192.19M204.40 207.77L221.70 195.39M204.40 210.97L221.70 198.59M204.40 214.17L221.70 201.79M204.40 217.37L221.70 204.99M204.40 220.57L221.70 208.19M204.40 223.77L221.70 211.39M204.40 226.97L221.70 214.59M204.40 230.17L221.70 217.79M204.40 233.37L221.70 220.99M204.40 236.57L221.70 224.19M204.40 239.77L221.70 227.39M204.40 242.97L221.70 230.59M204.40 246.17L221.70 233.79M204.40 249.37L221.70 236.99M204.40 252.57L221.70 240.19M204.40 255.77L221.70 243.39M204.40 258.97L221.70 246.59M204.40 262.17L221.70 249.79M204.40 265.37L221.70 252.99M204.40 268.57L221.70 256.19M204.40 271.77L221.70 259.39" stroke="#000" stroke-width="1.46" fill="none"/></g>
<line x1="181.20" y1="222.36" x2="181.20" y2="224.48" stroke="#777" stroke-width="0.7" />
<line x1="179.60" y1="222.36" x2="182.80" y2="222.36" stroke="#777" stroke-width="0.7" />
<line x1="213.05" y1="197.52" x2="213.05" y2="204.66" stroke="#777" stroke-width="0.7" />
<line x1="211.45" y1="197.52" x2="214.65" y2="197.52" stroke="#777" stroke-width="0.7" />
<line x1="156.50" y1="152.20" x2="156.50" y2="258.70" stroke="#000" stroke-width="0.8" />
<line x1="155.60" y1="258.50" x2="224.00" y2="258.50" stroke="#000" stroke-width="0.8" />
<line x1="152.20" y1="258.30" x2="156.00" y2="258.30" stroke="#000" stroke-width="0.7" />
<text transform="translate(150.00,260.80) scale(0.88,1)" font-size="7.8" text-anchor="end" font-weight="normal" fill="#000" stroke="#000" stroke-width="0.4" >0</text>
<line x1="152.20" y1="245.09" x2="156.00" y2="245.09" stroke="#000" stroke-width="0.7" />
<text transform="translate(150.00,247.59) scale(0.88,1)" font-size="7.8" text-anchor="end" font-weight="normal" fill="#000" stroke="#000" stroke-width="0.4" >50</text>
<line x1="152.20" y1="231.88" x2="156.00" y2="231.88" stroke="#000" stroke-width="0.7" />
<text transform="translate(150.00,234.38) scale(0.88,1)" font-size="7.8" text-anchor="end" font-weight="normal" fill="#000" stroke="#000" stroke-width="0.4" >100</text>
<line x1="152.20" y1="218.66" x2="156.00" y2="218.66" stroke="#000" stroke-width="0.7" />
<text transform="translate(150.00,221.16) scale(0.88,1)" font-size="7.8" text-anchor="end" font-weight="normal" fill="#000" stroke="#000" stroke-width="0.4" >150</text>
<line x1="152.20" y1="205.45" x2="156.00" y2="205.45" stroke="#000" stroke-width="0.7" />
<text transform="translate(150.00,207.95) scale(0.88,1)" font-size="7.8" text-anchor="end" font-weight="normal" fill="#000" stroke="#000" stroke-width="0.4" >200</text>
<line x1="152.20" y1="192.24" x2="156.00" y2="192.24" stroke="#000" stroke-width="0.7" />
<text transform="translate(150.00,194.74) scale(0.88,1)" font-size="7.8" text-anchor="end" font-weight="normal" fill="#000" stroke="#000" stroke-width="0.4" >250</text>
<line x1="152.20" y1="179.03" x2="156.00" y2="179.03" stroke="#000" stroke-width="0.7" />
<text transform="translate(150.00,181.53) scale(0.88,1)" font-size="7.8" text-anchor="end" font-weight="normal" fill="#000" stroke="#000" stroke-width="0.4" >300</text>
<line x1="152.20" y1="165.81" x2="156.00" y2="165.81" stroke="#000" stroke-width="0.7" />
<text transform="translate(150.00,168.31) scale(0.88,1)" font-size="7.8" text-anchor="end" font-weight="normal" fill="#000" stroke="#000" stroke-width="0.4" >350</text>
<line x1="152.20" y1="152.60" x2="156.00" y2="152.60" stroke="#000" stroke-width="0.7" />
<text transform="translate(150.00,155.10) scale(0.88,1)" font-size="7.8" text-anchor="end" font-weight="normal" fill="#000" stroke="#000" stroke-width="0.4" >400</text>
<text transform="translate(183.00,161.70) scale(0.93,1)" font-size="7.8" text-anchor="middle" font-weight="normal" fill="#000" stroke="#000" stroke-width="0.4" >GL-II-74</text>
<text transform="translate(181.32,223.95)" font-size="8.1" text-anchor="middle" font-weight="bold" fill="#000" stroke="#000" stroke-width="0.4" letter-spacing="0.25">*</text>
<text transform="translate(197.82,197.15)" font-size="8.1" text-anchor="middle" font-weight="bold" fill="#000" stroke="#000" stroke-width="0.4" letter-spacing="0.25">**</text>
<text transform="translate(213.12,197.65)" font-size="8.1" text-anchor="middle" font-weight="bold" fill="#000" stroke="#000" stroke-width="0.4" letter-spacing="0.25">*</text>
<text transform="translate(174.30,267.30) scale(0.88,1)" font-size="8.1" text-anchor="middle" font-weight="normal" fill="#000" stroke="#000" stroke-width="0.4" >100 n<tspan font-size="0.74em">M</tspan></text>
<text transform="translate(205.80,267.30) scale(0.88,1)" font-size="8.1" text-anchor="middle" font-weight="normal" fill="#000" stroke="#000" stroke-width="0.4" >1 µ<tspan font-size="0.74em">M</tspan></text>
<text transform="translate(140.60,266.90) scale(0.88,1)" font-size="8.6" text-anchor="start" font-weight="bold" fill="#000" stroke="#000" stroke-width="0.4" >f</text>
<rect x="278.60" y="202.81" width="14.20" height="55.49" fill="#fff" stroke="#a6a6a6" stroke-width="1.0" />
<line x1="285.45" y1="200.43" x2="285.45" y2="205.19" stroke="#777" stroke-width="0.7" />
<line x1="283.85" y1="200.43" x2="287.05" y2="200.43" stroke="#777" stroke-width="0.7" />
<line x1="283.85" y1="205.19" x2="287.05" y2="205.19" stroke="#777" stroke-width="0.7" />
<rect x="310.90" y="165.02" width="13.70" height="93.28" fill="#fff" stroke="#a6a6a6" stroke-width="1.0" />
<line x1="317.50" y1="157.88" x2="317.50" y2="172.15" stroke="#777" stroke-width="0.7" />
<line x1="315.90" y1="157.88" x2="319.10" y2="157.88" stroke="#777" stroke-width="0.7" />
<line x1="315.90" y1="172.15" x2="319.10" y2="172.15" stroke="#777" stroke-width="0.7" />
<line x1="276.60" y1="231.61" x2="345.00" y2="231.61" stroke="#000" stroke-width="0.8" stroke-dasharray="2 1.1"/>
<clipPath id="hc5"><rect x="292.80" y="201.22" width="15.40" height="57.08"/></clipPath>
<g clip-path="url(#hc5)"><rect x="292.80" y="201.22" width="15.40" height="57.08" fill="#fff"/><path d="M291.80 201.47L309.20 189.02M291.80 204.67L309.20 192.22M291.80 207.87L309.20 195.42M291.80 211.07L309.20 198.62M291.80 214.27L309.20 201.82M291.80 217.47L309.20 205.02M291.80 220.67L309.20 208.22M291.80 223.87L309.20 211.42M291.80 227.07L309.20 214.62M291.80 230.27L309.20 217.82M291.80 233.47L309.20 221.02M291.80 236.67L309.20 224.22M291.80 239.87L309.20 227.42M291.80 243.07L309.20 230.62M291.80 246.27L309.20 233.82M291.80 249.47L309.20 237.02M291.80 252.67L309.20 240.22M291.80 255.87L309.20 243.42M291.80 259.07L309.20 246.62M291.80 262.27L309.20 249.82M291.80 265.47L309.20 253.02M291.80 268.67L309.20 256.22M291.80 271.87L309.20 259.42" stroke="#000" stroke-width="1.46" fill="none"/></g>
<clipPath id="hc6"><rect x="324.60" y="161.85" width="15.40" height="96.45"/></clipPath>
<g clip-path="url(#hc6)"><rect x="324.60" y="161.85" width="15.40" height="96.45" fill="#fff"/><path d="M323.60 161.07L341.00 148.61M323.60 164.27L341.00 151.81M323.60 167.47L341.00 155.01M323.60 170.67L341.00 158.21M323.60 173.87L341.00 161.41M323.60 177.07L341.00 164.61M323.60 180.27L341.00 167.81M323.60 183.47L341.00 171.01M323.60 186.67L341.00 174.21M323.60 189.87L341.00 177.41M323.60 193.07L341.00 180.61M323.60 196.27L341.00 183.81M323.60 199.47L341.00 187.01M323.60 202.67L341.00 190.21M323.60 205.87L341.00 193.41M323.60 209.07L341.00 196.61M323.60 212.27L341.00 199.81M323.60 215.47L341.00 203.01M323.60 218.67L341.00 206.21M323.60 221.87L341.00 209.41M323.60 225.07L341.00 212.61M323.60 228.27L341.00 215.81M323.60 231.47L341.00 219.01M323.60 234.67L341.00 222.21M323.60 237.87L341.00 225.41M323.60 241.07L341.00 228.61M323.60 244.27L341.00 231.81M323.60 247.47L341.00 235.01M323.60 250.67L341.00 238.21M323.60 253.87L341.00 241.41M323.60 257.07L341.00 244.61M323.60 260.27L341.00 247.81M323.60 263.47L341.00 251.01M323.60 266.67L341.00 254.21M323.60 269.87L341.00 257.41M323.60 273.07L341.00 260.61" stroke="#000" stroke-width="1.46" fill="none"/></g>
<line x1="300.50" y1="196.47" x2="300.50" y2="201.22" stroke="#777" stroke-width="0.7" />
<line x1="298.90" y1="196.47" x2="302.10" y2="196.47" stroke="#777" stroke-width="0.7" />
<line x1="332.30" y1="153.39" x2="332.30" y2="161.85" stroke="#777" stroke-width="0.7" />
<line x1="330.70" y1="153.39" x2="333.90" y2="153.39" stroke="#777" stroke-width="0.7" />
<line x1="276.50" y1="152.20" x2="276.50" y2="258.70" stroke="#000" stroke-width="0.8" />
<line x1="276.20" y1="258.50" x2="343.00" y2="258.50" stroke="#000" stroke-width="0.8" />
<line x1="272.80" y1="258.30" x2="276.60" y2="258.30" stroke="#000" stroke-width="0.7" />
<text transform="translate(270.60,260.80) scale(0.88,1)" font-size="7.8" text-anchor="end" font-weight="normal" fill="#000" stroke="#000" stroke-width="0.4" >0</text>
<line x1="272.80" y1="245.09" x2="276.60" y2="245.09" stroke="#000" stroke-width="0.7" />
<text transform="translate(270.60,247.59) scale(0.88,1)" font-size="7.8" text-anchor="end" font-weight="normal" fill="#000" stroke="#000" stroke-width="0.4" >50</text>
<line x1="272.80" y1="231.88" x2="276.60" y2="231.88" stroke="#000" stroke-width="0.7" />
<text transform="translate(270.60,234.38) scale(0.88,1)" font-size="7.8" text-anchor="end" font-weight="normal" fill="#000" stroke="#000" stroke-width="0.4" >100</text>
<line x1="272.80" y1="218.66" x2="276.60" y2="218.66" stroke="#000" stroke-width="0.7" />
<text transform="translate(270.60,221.16) scale(0.88,1)" font-size="7.8" text-anchor="end" font-weight="normal" fill="#000" stroke="#000" stroke-width="0.4" >150</text>
<line x1="272.80" y1="205.45" x2="276.60" y2="205.45" stroke="#000" stroke-width="0.7" />
<text transform="translate(270.60,207.95) scale(0.88,1)" font-size="7.8" text-anchor="end" font-weight="normal" fill="#000" stroke="#000" stroke-width="0.4" >200</text>
<line x1="272.80" y1="192.24" x2="276.60" y2="192.24" stroke="#000" stroke-width="0.7" />
<text transform="translate(270.60,194.74) scale(0.88,1)" font-size="7.8" text-anchor="end" font-weight="normal" fill="#000" stroke="#000" stroke-width="0.4" >250</text>
<line x1="272.80" y1="179.03" x2="276.60" y2="179.03" stroke="#000" stroke-width="0.7" />
<text transform="translate(270.60,181.53) scale(0.88,1)" font-size="7.8" text-anchor="end" font-weight="normal" fill="#000" stroke="#000" stroke-width="0.4" >300</text>
<line x1="272.80" y1="165.81" x2="276.60" y2="165.81" stroke="#000" stroke-width="0.7" />
<text transform="translate(270.60,168.31) scale(0.88,1)" font-size="7.8" text-anchor="end" font-weight="normal" fill="#000" stroke="#000" stroke-width="0.4" >350</text>
<line x1="272.80" y1="152.60" x2="276.60" y2="152.60" stroke="#000" stroke-width="0.7" />
<text transform="translate(270.60,155.10) scale(0.88,1)" font-size="7.8" text-anchor="end" font-weight="normal" fill="#000" stroke="#000" stroke-width="0.4" >400</text>
<text transform="translate(292.10,161.30) scale(0.93,1)" font-size="7.8" text-anchor="middle" font-weight="normal" fill="#000" stroke="#000" stroke-width="0.4" >GL-II-75</text>
<text transform="translate(286.32,202.65)" font-size="8.1" text-anchor="middle" font-weight="bold" fill="#000" stroke="#000" stroke-width="0.4" letter-spacing="0.25">***</text>
<text transform="translate(301.02,198.05)" font-size="8.1" text-anchor="middle" font-weight="bold" fill="#000" stroke="#000" stroke-width="0.4" letter-spacing="0.25">**</text>
<text transform="translate(317.72,160.35)" font-size="8.1" text-anchor="middle" font-weight="bold" fill="#000" stroke="#000" stroke-width="0.4" letter-spacing="0.25">***</text>
<text transform="translate(332.42,153.75)" font-size="8.1" text-anchor="middle" font-weight="bold" fill="#000" stroke="#000" stroke-width="0.4" letter-spacing="0.25">**</text>
<text transform="translate(293.60,267.30) scale(0.88,1)" font-size="8.1" text-anchor="middle" font-weight="normal" fill="#000" stroke="#000" stroke-width="0.4" >100 n<tspan font-size="0.74em">M</tspan></text>
<text transform="translate(325.00,267.30) scale(0.88,1)" font-size="8.1" text-anchor="middle" font-weight="normal" fill="#000" stroke="#000" stroke-width="0.4" >1 µ<tspan font-size="0.74em">M</tspan></text>
<text transform="translate(257.30,266.90) scale(0.88,1)" font-size="8.6" text-anchor="start" font-weight="bold" fill="#000" stroke="#000" stroke-width="0.4" >g</text>
<rect x="391.00" y="228.28" width="13.60" height="29.92" fill="#fff" stroke="#a6a6a6" stroke-width="1.0" />
<line x1="397.55" y1="226.96" x2="397.55" y2="229.61" stroke="#777" stroke-width="0.7" />
<line x1="395.95" y1="226.96" x2="399.15" y2="226.96" stroke="#777" stroke-width="0.7" />
<line x1="395.95" y1="229.61" x2="399.15" y2="229.61" stroke="#777" stroke-width="0.7" />
<rect x="422.60" y="214.52" width="14.20" height="43.68" fill="#fff" stroke="#a6a6a6" stroke-width="1.0" />
<line x1="429.45" y1="212.66" x2="429.45" y2="216.37" stroke="#777" stroke-width="0.7" />
<line x1="427.85" y1="212.66" x2="431.05" y2="212.66" stroke="#777" stroke-width="0.7" />
<line x1="427.85" y1="216.37" x2="431.05" y2="216.37" stroke="#777" stroke-width="0.7" />
<line x1="388.90" y1="230.93" x2="457.20" y2="230.93" stroke="#4a4a4a" stroke-width="1.0" stroke-dasharray="2 1.1"/>
<clipPath id="hc7"><rect x="404.60" y="225.37" width="15.60" height="32.83"/></clipPath>
<g clip-path="url(#hc7)"><rect x="404.60" y="225.37" width="15.60" height="32.83" fill="#fff"/><path d="M403.60 225.39L421.20 212.79M403.60 228.59L421.20 215.99M403.60 231.79L421.20 219.19M403.60 234.99L421.20 222.39M403.60 238.19L421.20 225.59M403.60 241.39L421.20 228.79M403.60 244.59L421.20 231.99M403.60 247.79L421.20 235.19M403.60 250.99L421.20 238.39M403.60 254.19L421.20 241.59M403.60 257.39L421.20 244.79M403.60 260.59L421.20 247.99M403.60 263.79L421.20 251.19M403.60 266.99L421.20 254.39M403.60 270.19L421.20 257.59" stroke="#000" stroke-width="1.46" fill="none"/></g>
<clipPath id="hc8"><rect x="436.80" y="217.69" width="15.20" height="40.51"/></clipPath>
<g clip-path="url(#hc8)"><rect x="436.80" y="217.69" width="15.20" height="40.51" fill="#fff"/><path d="M435.80 216.83L453.00 204.51M435.80 220.03L453.00 207.71M435.80 223.23L453.00 210.91M435.80 226.43L453.00 214.11M435.80 229.63L453.00 217.31M435.80 232.83L453.00 220.51M435.80 236.03L453.00 223.71M435.80 239.23L453.00 226.91M435.80 242.43L453.00 230.11M435.80 245.63L453.00 233.31M435.80 248.83L453.00 236.51M435.80 252.03L453.00 239.71M435.80 255.23L453.00 242.91M435.80 258.43L453.00 246.11M435.80 261.63L453.00 249.31M435.80 264.83L453.00 252.51M435.80 268.03L453.00 255.71M435.80 271.23L453.00 258.91" stroke="#000" stroke-width="1.46" fill="none"/></g>
<line x1="444.40" y1="216.10" x2="444.40" y2="217.69" stroke="#777" stroke-width="0.7" />
<line x1="442.80" y1="216.10" x2="446.00" y2="216.10" stroke="#777" stroke-width="0.7" />
<line x1="388.50" y1="151.90" x2="388.50" y2="258.60" stroke="#000" stroke-width="0.8" />
<line x1="388.50" y1="258.50" x2="457.00" y2="258.50" stroke="#000" stroke-width="0.8" />
<line x1="385.10" y1="258.20" x2="388.90" y2="258.20" stroke="#000" stroke-width="0.7" />
<text transform="translate(382.90,260.70) scale(0.88,1)" font-size="7.8" text-anchor="end" font-weight="normal" fill="#000" stroke="#000" stroke-width="0.4" >0</text>
<line x1="385.10" y1="244.96" x2="388.90" y2="244.96" stroke="#000" stroke-width="0.7" />
<text transform="translate(382.90,247.46) scale(0.88,1)" font-size="7.8" text-anchor="end" font-weight="normal" fill="#000" stroke="#000" stroke-width="0.4" >50</text>
<line x1="385.10" y1="231.72" x2="388.90" y2="231.72" stroke="#000" stroke-width="0.7" />
<text transform="translate(382.90,234.22) scale(0.88,1)" font-size="7.8" text-anchor="end" font-weight="normal" fill="#000" stroke="#000" stroke-width="0.4" >100</text>
<line x1="385.10" y1="218.49" x2="388.90" y2="218.49" stroke="#000" stroke-width="0.7" />
<text transform="translate(382.90,220.99) scale(0.88,1)" font-size="7.8" text-anchor="end" font-weight="normal" fill="#000" stroke="#000" stroke-width="0.4" >150</text>
<line x1="385.10" y1="205.25" x2="388.90" y2="205.25" stroke="#000" stroke-width="0.7" />
<text transform="translate(382.90,207.75) scale(0.88,1)" font-size="7.8" text-anchor="end" font-weight="normal" fill="#000" stroke="#000" stroke-width="0.4" >200</text>
<line x1="385.10" y1="192.01" x2="388.90" y2="192.01" stroke="#000" stroke-width="0.7" />
<text transform="translate(382.90,194.51) scale(0.88,1)" font-size="7.8" text-anchor="end" font-weight="normal" fill="#000" stroke="#000" stroke-width="0.4" >250</text>
<line x1="385.10" y1="178.78" x2="388.90" y2="178.78" stroke="#000" stroke-width="0.7" />
<text transform="translate(382.90,181.28) scale(0.88,1)" font-size="7.8" text-anchor="end" font-weight="normal" fill="#000" stroke="#000" stroke-width="0.4" >300</text>
<line x1="385.10" y1="165.54" x2="388.90" y2="165.54" stroke="#000" stroke-width="0.7" />
<text transform="translate(382.90,168.04) scale(0.88,1)" font-size="7.8" text-anchor="end" font-weight="normal" fill="#000" stroke="#000" stroke-width="0.4" >350</text>
<line x1="385.10" y1="152.30" x2="388.90" y2="152.30" stroke="#000" stroke-width="0.7" />
<text transform="translate(382.90,154.80) scale(0.88,1)" font-size="7.8" text-anchor="end" font-weight="normal" fill="#000" stroke="#000" stroke-width="0.4" >400</text>
<text transform="translate(404.00,161.90) scale(0.93,1)" font-size="7.8" text-anchor="middle" font-weight="normal" fill="#000" stroke="#000" stroke-width="0.4" >GL-II-76</text>
<text transform="translate(412.82,226.15)" font-size="8.1" text-anchor="middle" font-weight="bold" fill="#000" stroke="#000" stroke-width="0.4" letter-spacing="0.25">***</text>
<text transform="translate(429.22,213.55)" font-size="8.1" text-anchor="middle" font-weight="bold" fill="#000" stroke="#000" stroke-width="0.4" letter-spacing="0.25">***</text>
<text transform="translate(445.12,216.85)" font-size="8.1" text-anchor="middle" font-weight="bold" fill="#000" stroke="#000" stroke-width="0.4" letter-spacing="0.25">**</text>
<text transform="translate(405.40,267.30) scale(0.88,1)" font-size="8.1" text-anchor="middle" font-weight="normal" fill="#000" stroke="#000" stroke-width="0.4" >100 n<tspan font-size="0.74em">M</tspan></text>
<text transform="translate(437.20,267.30) scale(0.88,1)" font-size="8.1" text-anchor="middle" font-weight="normal" fill="#000" stroke="#000" stroke-width="0.4" >1 µ<tspan font-size="0.74em">M</tspan></text>
<text transform="translate(369.00,266.90) scale(0.88,1)" font-size="8.6" text-anchor="start" font-weight="bold" fill="#000" stroke="#000" stroke-width="0.4" >h</text>
<rect x="455.60" y="201.30" width="4.90" height="3.50" fill="#fff" stroke="#777" stroke-width="0.6" />
<text transform="translate(463.10,206.40) scale(0.92,1)" font-size="6.4" text-anchor="start" font-weight="normal" fill="#000" stroke="#000" stroke-width="0.4" >α1β1γ2</text>
<rect x="456.00" y="213.20" width="4.60" height="3.90" fill="#8e8e8e" stroke="none" stroke-width="0.6" />
<text transform="translate(463.10,218.60) scale(0.92,1)" font-size="6.4" text-anchor="start" font-weight="normal" fill="#000" stroke="#000" stroke-width="0.4" >α1β3γ2</text>
<!-- line plots -->
<path d="M42.60 345.40 L133.28 345.40 L133.28 346.95 L132.17 348.24 L131.06 349.50 L129.95 350.73 L128.84 351.93 L127.74 353.09 L126.63 354.20 L125.52 355.27 L124.42 356.29 L123.31 357.25 L122.20 358.16 L121.10 359.00 L119.97 359.78 L118.81 360.52 L117.61 361.20 L116.38 361.84 L115.13 362.44 L113.87 362.99 L112.59 363.51 L111.31 363.99 L110.03 364.43 L108.75 364.84 L107.48 365.23 L106.24 365.58 L105.01 365.91 L103.82 366.22 L102.66 366.50 L101.54 366.77 L100.46 367.02 L99.44 367.26 L98.47 367.48 L97.57 367.70 L97.57 367.80 L42.60 367.80Z" fill="#f6e3d7"/>
<line x1="42.60" y1="363.50" x2="201.00" y2="363.50" stroke="#d0524a" stroke-width="1.15" />
<text transform="translate(200.40,361.00) scale(0.83,1)" font-size="8.0" text-anchor="end" font-weight="normal" fill="#e2887b" stroke="#e2887b" stroke-width="0.4" >120%</text>
<line x1="99.50" y1="333.20" x2="99.50" y2="395.50" stroke="#000" stroke-width="1.15" />
<path d="M98.15 321.00 H100.05 V327.40 H101.40 L99.10 332.40 L96.80 327.40 H98.15 Z" fill="#000"/>
<text transform="translate(100.30,316.30) scale(0.9,1)" font-size="8.0" text-anchor="middle" font-weight="normal" fill="#000" stroke="#000" stroke-width="0.4" >1 mg/kg</text>
<line x1="133.50" y1="332.00" x2="133.50" y2="395.50" stroke="#000" stroke-width="1.15" />
<path d="M132.95 321.00 H134.85 V326.40 H136.20 L133.90 331.40 L131.60 326.40 H132.95 Z" fill="#000"/>
<text transform="translate(135.50,316.30) scale(0.9,1)" font-size="8.0" text-anchor="middle" font-weight="normal" fill="#000" stroke="#000" stroke-width="0.4" >10 mg/kg</text>
<line x1="42.50" y1="284.30" x2="42.50" y2="395.90" stroke="#000" stroke-width="0.8" />
<line x1="42.20" y1="395.50" x2="201.60" y2="395.50" stroke="#000" stroke-width="0.9" />
<line x1="39.00" y1="395.50" x2="42.60" y2="395.50" stroke="#000" stroke-width="0.7" />
<text transform="translate(36.80,398.20) scale(0.88,1)" font-size="8.0" text-anchor="end" font-weight="normal" fill="#000" stroke="#000" stroke-width="0.4" >0</text>
<line x1="39.00" y1="367.80" x2="42.60" y2="367.80" stroke="#000" stroke-width="0.7" />
<text transform="translate(36.80,370.50) scale(0.88,1)" font-size="8.0" text-anchor="end" font-weight="normal" fill="#000" stroke="#000" stroke-width="0.4" >100</text>
<line x1="39.00" y1="340.10" x2="42.60" y2="340.10" stroke="#000" stroke-width="0.7" />
<text transform="translate(36.80,342.80) scale(0.88,1)" font-size="8.0" text-anchor="end" font-weight="normal" fill="#000" stroke="#000" stroke-width="0.4" >200</text>
<line x1="39.00" y1="312.40" x2="42.60" y2="312.40" stroke="#000" stroke-width="0.7" />
<text transform="translate(36.80,315.10) scale(0.88,1)" font-size="8.0" text-anchor="end" font-weight="normal" fill="#000" stroke="#000" stroke-width="0.4" >300</text>
<line x1="39.00" y1="284.70" x2="42.60" y2="284.70" stroke="#000" stroke-width="0.7" />
<text transform="translate(36.80,287.40) scale(0.88,1)" font-size="8.0" text-anchor="end" font-weight="normal" fill="#000" stroke="#000" stroke-width="0.4" >400</text>
<path d="M42.6 395.5v3.4M50.6 395.5v2.5M55.2 395.5v2.5M58.5 395.5v2.5M61.1 395.5v2.5M63.2 395.5v2.5M65.0 395.5v2.5M66.5 395.5v2.5M67.8 395.5v2.5M69.0 395.5v3.4M77.0 395.5v2.5M81.7 395.5v2.5M85.0 395.5v2.5M87.5 395.5v2.5M89.6 395.5v2.5M91.4 395.5v2.5M92.9 395.5v2.5M94.3 395.5v2.5M95.5 395.5v3.4M103.5 395.5v2.5M108.1 395.5v2.5M111.4 395.5v2.5M114.0 395.5v2.5M116.1 395.5v2.5M117.9 395.5v2.5M119.4 395.5v2.5M120.7 395.5v2.5M121.9 395.5v3.4M129.9 395.5v2.5M134.6 395.5v2.5M137.9 395.5v2.5M140.4 395.5v2.5M142.5 395.5v2.5M144.3 395.5v2.5M145.8 395.5v2.5M147.2 395.5v2.5M148.4 395.5v3.4M156.4 395.5v2.5M161.0 395.5v2.5M164.3 395.5v2.5M166.9 395.5v2.5M169.0 395.5v2.5M170.8 395.5v2.5M172.3 395.5v2.5M173.6 395.5v2.5M174.8 395.5v3.4M182.8 395.5v2.5M187.5 395.5v2.5M190.8 395.5v2.5M193.3 395.5v2.5M195.4 395.5v2.5M197.2 395.5v2.5M198.7 395.5v2.5M200.1 395.5v2.5M201.3 395.5v3.4" stroke="#000" stroke-width="0.7" fill="none"/>
<text transform="translate(69.75,407.50) scale(0.88,1)" font-size="8.2" text-anchor="middle" font-weight="normal" fill="#000" stroke="#000" stroke-width="0.4" >1 n<tspan font-size="0.74em">M</tspan></text>
<text transform="translate(96.20,407.50) scale(0.88,1)" font-size="8.2" text-anchor="middle" font-weight="normal" fill="#000" stroke="#000" stroke-width="0.4" >10 n<tspan font-size="0.74em">M</tspan></text>
<text transform="translate(122.65,407.50) scale(0.88,1)" font-size="8.2" text-anchor="middle" font-weight="normal" fill="#000" stroke="#000" stroke-width="0.4" >100 n<tspan font-size="0.74em">M</tspan></text>
<text transform="translate(149.10,407.50) scale(0.88,1)" font-size="8.2" text-anchor="middle" font-weight="normal" fill="#000" stroke="#000" stroke-width="0.4" >1 µ<tspan font-size="0.74em">M</tspan></text>
<text transform="translate(175.55,407.50) scale(0.88,1)" font-size="8.2" text-anchor="middle" font-weight="normal" fill="#000" stroke="#000" stroke-width="0.4" >10 µ<tspan font-size="0.74em">M</tspan></text>
<path d="M94.70 368.50 C99.10 368.08 112.27 368.77 121.10 366.00 C129.93 363.23 138.83 356.22 147.70 351.90 C156.57 347.58 169.87 342.07 174.30 340.10" fill="none" stroke="#000" stroke-width="0.75"/>
<path d="M94.70 368.50 C99.10 366.92 112.27 365.47 121.10 359.00 C129.93 352.53 138.83 339.62 147.70 329.70 C156.57 319.78 169.87 304.53 174.30 299.50" fill="none" stroke="#000" stroke-width="0.75"/>
<line x1="147.70" y1="347.90" x2="147.70" y2="356.00" stroke="#1a1a1a" stroke-width="0.75" />
<line x1="146.00" y1="347.90" x2="149.40" y2="347.90" stroke="#1a1a1a" stroke-width="0.75" />
<line x1="146.00" y1="356.00" x2="149.40" y2="356.00" stroke="#1a1a1a" stroke-width="0.75" />
<line x1="174.30" y1="331.20" x2="174.30" y2="349.00" stroke="#1a1a1a" stroke-width="0.75" />
<line x1="172.60" y1="331.20" x2="176.00" y2="331.20" stroke="#1a1a1a" stroke-width="0.75" />
<line x1="172.60" y1="349.00" x2="176.00" y2="349.00" stroke="#1a1a1a" stroke-width="0.75" />
<line x1="147.70" y1="325.70" x2="147.70" y2="333.60" stroke="#1a1a1a" stroke-width="0.75" />
<line x1="146.00" y1="325.70" x2="149.40" y2="325.70" stroke="#1a1a1a" stroke-width="0.75" />
<line x1="146.00" y1="333.60" x2="149.40" y2="333.60" stroke="#1a1a1a" stroke-width="0.75" />
<line x1="174.30" y1="291.80" x2="174.30" y2="307.30" stroke="#1a1a1a" stroke-width="0.75" />
<line x1="172.60" y1="291.80" x2="176.00" y2="291.80" stroke="#1a1a1a" stroke-width="0.75" />
<line x1="172.60" y1="307.30" x2="176.00" y2="307.30" stroke="#1a1a1a" stroke-width="0.75" />
<circle cx="121.10" cy="366.00" r="2.2" fill="#000"/>
<circle cx="147.70" cy="351.90" r="2.2" fill="#000"/>
<circle cx="174.30" cy="340.10" r="2.2" fill="#000"/>
<circle cx="94.70" cy="368.50" r="2.2" fill="#fff" stroke="#000" stroke-width="0.8"/>
<circle cx="121.10" cy="359.00" r="2.2" fill="#fff" stroke="#000" stroke-width="0.8"/>
<circle cx="147.70" cy="329.70" r="2.2" fill="#fff" stroke="#000" stroke-width="0.8"/>
<circle cx="174.30" cy="299.50" r="2.2" fill="#fff" stroke="#000" stroke-width="0.8"/>
<text transform="translate(121.80,417.90) scale(0.9,1)" font-size="7.8" text-anchor="middle" font-weight="normal" fill="#000" stroke="#000" stroke-width="0.4" >GL-II-73</text>
<text transform="translate(13.00,418.00) scale(0.88,1)" font-size="8.6" text-anchor="start" font-weight="bold" fill="#000" stroke="#000" stroke-width="0.4" >i</text>
<text transform="translate(19.40,339.80) rotate(-90) scale(0.915,1)" font-size="7.8" text-anchor="middle" font-weight="normal" fill="#000" stroke="#000" stroke-width="0.4" >% of control current at EC<tspan font-size="0.62em" dy="1.2">3</tspan></text>
<line x1="48.50" y1="288.60" x2="62.20" y2="288.60" stroke="#000" stroke-width="0.8" />
<circle cx="55.3" cy="288.6" r="2.2" fill="#000"/>
<text transform="translate(66.50,291.40) scale(0.934,1)" font-size="8.0" text-anchor="start" font-weight="normal" fill="#000" stroke="#000" stroke-width="0.4" >α1β3γ2</text>
<line x1="48.50" y1="295.70" x2="62.20" y2="295.70" stroke="#000" stroke-width="0.8" />
<circle cx="55.3" cy="295.7" r="2.2" fill="#fff" stroke="#000" stroke-width="0.8"/>
<text transform="translate(66.50,298.50) scale(0.934,1)" font-size="8.0" text-anchor="start" font-weight="normal" fill="#000" stroke="#000" stroke-width="0.4" >α5β3γ2</text>
<path d="M281.30 318.60 L373.30 318.60 L373.30 319.78 L372.04 321.98 L370.77 324.16 L369.51 326.29 L368.24 328.38 L366.99 330.40 L365.76 332.34 L364.55 334.18 L363.36 335.91 L362.21 337.53 L361.10 339.00 L360.01 340.38 L358.92 341.71 L357.84 343.01 L356.75 344.26 L355.66 345.47 L354.58 346.65 L353.49 347.78 L352.40 348.88 L351.32 349.94 L350.23 350.96 L349.14 351.94 L348.06 352.89 L346.97 353.81 L345.88 354.69 L344.79 355.54 L343.70 356.36 L342.60 357.14 L341.51 357.89 L340.41 358.62 L339.31 359.31 L338.21 359.97 L338.21 360.00 L281.30 360.00Z" fill="#f6e3d7"/>
<line x1="281.30" y1="361.60" x2="440.30" y2="361.60" stroke="#d0524a" stroke-width="1.15" />
<text transform="translate(439.00,359.90) scale(0.83,1)" font-size="8.0" text-anchor="end" font-weight="normal" fill="#e2887b" stroke="#e2887b" stroke-width="0.4" >120%</text>
<line x1="339.50" y1="304.40" x2="339.50" y2="394.90" stroke="#000" stroke-width="1.15" />
<path d="M338.65 292.20 H340.55 V298.60 H341.90 L339.60 303.60 L337.30 298.60 H338.65 Z" fill="#000"/>
<text transform="translate(338.70,289.70) scale(0.9,1)" font-size="8.0" text-anchor="middle" font-weight="normal" fill="#000" stroke="#000" stroke-width="0.4" >1 mg/kg</text>
<line x1="374.50" y1="303.40" x2="374.50" y2="394.90" stroke="#000" stroke-width="1.15" />
<path d="M373.45 292.20 H375.35 V297.60 H376.70 L374.40 302.60 L372.10 297.60 H373.45 Z" fill="#000"/>
<text transform="translate(372.50,289.70) scale(0.9,1)" font-size="8.0" text-anchor="middle" font-weight="normal" fill="#000" stroke="#000" stroke-width="0.4" >10 mg/kg</text>
<line x1="281.50" y1="283.20" x2="281.50" y2="395.30" stroke="#000" stroke-width="0.8" />
<line x1="280.90" y1="394.50" x2="440.90" y2="394.50" stroke="#000" stroke-width="0.9" />
<line x1="277.70" y1="394.90" x2="281.30" y2="394.90" stroke="#000" stroke-width="0.7" />
<text transform="translate(275.50,397.60) scale(0.88,1)" font-size="8.0" text-anchor="end" font-weight="normal" fill="#000" stroke="#000" stroke-width="0.4" >0</text>
<line x1="277.70" y1="367.07" x2="281.30" y2="367.07" stroke="#000" stroke-width="0.7" />
<text transform="translate(275.50,369.77) scale(0.88,1)" font-size="8.0" text-anchor="end" font-weight="normal" fill="#000" stroke="#000" stroke-width="0.4" >100</text>
<line x1="277.70" y1="339.25" x2="281.30" y2="339.25" stroke="#000" stroke-width="0.7" />
<text transform="translate(275.50,341.95) scale(0.88,1)" font-size="8.0" text-anchor="end" font-weight="normal" fill="#000" stroke="#000" stroke-width="0.4" >200</text>
<line x1="277.70" y1="311.43" x2="281.30" y2="311.43" stroke="#000" stroke-width="0.7" />
<text transform="translate(275.50,314.12) scale(0.88,1)" font-size="8.0" text-anchor="end" font-weight="normal" fill="#000" stroke="#000" stroke-width="0.4" >300</text>
<line x1="277.70" y1="283.60" x2="281.30" y2="283.60" stroke="#000" stroke-width="0.7" />
<text transform="translate(275.50,286.30) scale(0.88,1)" font-size="8.0" text-anchor="end" font-weight="normal" fill="#000" stroke="#000" stroke-width="0.4" >400</text>
<path d="M281.3 394.9v3.4M289.3 394.9v2.5M293.9 394.9v2.5M297.2 394.9v2.5M299.8 394.9v2.5M301.9 394.9v2.5M303.7 394.9v2.5M305.2 394.9v2.5M306.5 394.9v2.5M307.8 394.9v3.4M315.7 394.9v2.5M320.4 394.9v2.5M323.7 394.9v2.5M326.2 394.9v2.5M328.3 394.9v2.5M330.1 394.9v2.5M331.6 394.9v2.5M333.0 394.9v2.5M334.2 394.9v3.4M342.2 394.9v2.5M346.8 394.9v2.5M350.1 394.9v2.5M352.7 394.9v2.5M354.8 394.9v2.5M356.6 394.9v2.5M358.1 394.9v2.5M359.4 394.9v2.5M360.6 394.9v3.4M368.6 394.9v2.5M373.3 394.9v2.5M376.6 394.9v2.5M379.1 394.9v2.5M381.2 394.9v2.5M383.0 394.9v2.5M384.5 394.9v2.5M385.9 394.9v2.5M387.1 394.9v3.4M395.1 394.9v2.5M399.7 394.9v2.5M403.0 394.9v2.5M405.6 394.9v2.5M407.7 394.9v2.5M409.5 394.9v2.5M411.0 394.9v2.5M412.3 394.9v2.5M413.6 394.9v3.4M421.5 394.9v2.5M426.2 394.9v2.5M429.5 394.9v2.5M432.0 394.9v2.5M434.1 394.9v2.5M435.9 394.9v2.5M437.4 394.9v2.5M438.8 394.9v2.5M440.0 394.9v3.4" stroke="#000" stroke-width="0.7" fill="none"/>
<text transform="translate(308.45,406.90) scale(0.88,1)" font-size="8.2" text-anchor="middle" font-weight="normal" fill="#000" stroke="#000" stroke-width="0.4" >1 n<tspan font-size="0.74em">M</tspan></text>
<text transform="translate(334.90,406.90) scale(0.88,1)" font-size="8.2" text-anchor="middle" font-weight="normal" fill="#000" stroke="#000" stroke-width="0.4" >10 n<tspan font-size="0.74em">M</tspan></text>
<text transform="translate(361.35,406.90) scale(0.88,1)" font-size="8.2" text-anchor="middle" font-weight="normal" fill="#000" stroke="#000" stroke-width="0.4" >100 n<tspan font-size="0.74em">M</tspan></text>
<text transform="translate(387.80,406.90) scale(0.88,1)" font-size="8.2" text-anchor="middle" font-weight="normal" fill="#000" stroke="#000" stroke-width="0.4" >1 µ<tspan font-size="0.74em">M</tspan></text>
<text transform="translate(414.25,406.90) scale(0.88,1)" font-size="8.2" text-anchor="middle" font-weight="normal" fill="#000" stroke="#000" stroke-width="0.4" >10 µ<tspan font-size="0.74em">M</tspan></text>
<path d="M334.50 366.90 C338.93 366.05 352.32 367.08 361.10 361.80 C369.88 356.52 378.40 345.92 387.20 335.20 C396.00 324.48 409.45 303.78 413.90 297.50" fill="none" stroke="#000" stroke-width="0.75"/>
<path d="M307.90 366.30 C312.40 365.55 326.03 366.35 334.90 361.80 C343.77 357.25 352.38 350.20 361.10 339.00 C369.82 327.80 382.85 302.00 387.20 294.60" fill="none" stroke="#000" stroke-width="0.75"/>
<line x1="387.20" y1="329.50" x2="387.20" y2="340.10" stroke="#1a1a1a" stroke-width="0.75" />
<line x1="385.50" y1="329.50" x2="388.90" y2="329.50" stroke="#1a1a1a" stroke-width="0.75" />
<line x1="385.50" y1="340.10" x2="388.90" y2="340.10" stroke="#1a1a1a" stroke-width="0.75" />
<line x1="413.90" y1="292.40" x2="413.90" y2="302.40" stroke="#1a1a1a" stroke-width="0.75" />
<line x1="412.20" y1="292.40" x2="415.60" y2="292.40" stroke="#1a1a1a" stroke-width="0.75" />
<line x1="412.20" y1="302.40" x2="415.60" y2="302.40" stroke="#1a1a1a" stroke-width="0.75" />
<line x1="361.10" y1="331.20" x2="361.10" y2="347.20" stroke="#1a1a1a" stroke-width="0.75" />
<line x1="359.40" y1="331.20" x2="362.80" y2="331.20" stroke="#1a1a1a" stroke-width="0.75" />
<line x1="359.40" y1="347.20" x2="362.80" y2="347.20" stroke="#1a1a1a" stroke-width="0.75" />
<line x1="387.20" y1="286.40" x2="387.20" y2="304.20" stroke="#1a1a1a" stroke-width="0.75" />
<line x1="385.50" y1="286.40" x2="388.90" y2="286.40" stroke="#1a1a1a" stroke-width="0.75" />
<line x1="385.50" y1="304.20" x2="388.90" y2="304.20" stroke="#1a1a1a" stroke-width="0.75" />
<circle cx="334.50" cy="366.90" r="2.2" fill="#000"/>
<circle cx="361.10" cy="361.80" r="2.2" fill="#000"/>
<circle cx="387.20" cy="335.20" r="2.2" fill="#000"/>
<circle cx="413.90" cy="297.50" r="2.2" fill="#000"/>
<circle cx="307.90" cy="366.30" r="2.2" fill="#fff" stroke="#000" stroke-width="0.8"/>
<circle cx="334.90" cy="361.80" r="2.2" fill="#fff" stroke="#000" stroke-width="0.8"/>
<circle cx="361.10" cy="339.00" r="2.2" fill="#fff" stroke="#000" stroke-width="0.8"/>
<circle cx="387.20" cy="294.60" r="2.2" fill="#fff" stroke="#000" stroke-width="0.8"/>
<text transform="translate(361.20,417.90) scale(0.9,1)" font-size="7.8" text-anchor="middle" font-weight="normal" fill="#000" stroke="#000" stroke-width="0.4" >GL-II-74</text>
<text transform="translate(251.50,418.00) scale(0.88,1)" font-size="8.6" text-anchor="start" font-weight="bold" fill="#000" stroke="#000" stroke-width="0.4" >j</text>
<text transform="translate(258.60,339.80) rotate(-90) scale(0.915,1)" font-size="7.8" text-anchor="middle" font-weight="normal" fill="#000" stroke="#000" stroke-width="0.4" >% of control current at EC<tspan font-size="0.62em" dy="1.2">3</tspan></text>
<path d="M43.20 530.40 L113.64 530.40 L113.64 530.49 L113.21 530.77 L112.76 531.06 L112.31 531.34 L111.84 531.63 L111.36 531.94 L110.86 532.27 L110.34 532.62 L109.80 533.00 L109.24 533.39 L108.67 533.77 L108.10 534.14 L107.53 534.50 L106.95 534.85 L106.37 535.18 L105.78 535.50 L105.20 535.81 L104.61 536.12 L104.02 536.41 L103.42 536.69 L102.83 536.96 L102.24 537.23 L101.64 537.48 L101.05 537.73 L100.46 537.96 L99.87 538.19 L99.28 538.41 L98.69 538.63 L98.11 538.84 L97.52 539.04 L96.95 539.23 L96.37 539.42 L95.80 539.60 L95.23 539.77 L94.67 539.94 L94.10 540.09 L93.54 540.24 L92.98 540.37 L69.40 540.40 L69.40 540.40 L43.20 540.40Z" fill="#f6e4d9"/>
<line x1="43.20" y1="534.30" x2="202.40" y2="534.30" stroke="#d0524a" stroke-width="1.5" />
<text transform="translate(200.40,531.30) scale(0.83,1)" font-size="8.0" text-anchor="end" font-weight="normal" fill="#e2887b" stroke="#e2887b" stroke-width="0.4" >120%</text>
<line x1="89.50" y1="468.20" x2="89.50" y2="570.30" stroke="#000" stroke-width="0.9" />
<path d="M88.45 457.00 H90.35 V462.40 H91.70 L89.40 467.40 L87.10 462.40 H88.45 Z" fill="#000"/>
<text transform="translate(84.50,454.50) scale(0.9,1)" font-size="8.0" text-anchor="middle" font-weight="normal" fill="#000" stroke="#000" stroke-width="0.4" >1 mg/kg</text>
<line x1="113.50" y1="468.80" x2="113.50" y2="570.30" stroke="#000" stroke-width="0.9" />
<path d="M112.80 457.00 H114.70 V463.20 H116.05 L113.75 468.20 L111.45 463.20 H112.80 Z" fill="#000"/>
<text transform="translate(119.60,454.60) scale(0.9,1)" font-size="8.0" text-anchor="middle" font-weight="normal" fill="#000" stroke="#000" stroke-width="0.4" >10 mg/kg</text>
<line x1="43.50" y1="450.20" x2="43.50" y2="570.70" stroke="#000" stroke-width="0.8" />
<line x1="42.80" y1="570.50" x2="203.00" y2="570.50" stroke="#000" stroke-width="0.9" />
<line x1="39.60" y1="570.30" x2="43.20" y2="570.30" stroke="#000" stroke-width="0.7" />
<text transform="translate(37.40,573.00) scale(0.88,1)" font-size="8.0" text-anchor="end" font-weight="normal" fill="#000" stroke="#000" stroke-width="0.4" >0</text>
<line x1="39.60" y1="540.38" x2="43.20" y2="540.38" stroke="#000" stroke-width="0.7" />
<text transform="translate(37.40,543.08) scale(0.88,1)" font-size="8.0" text-anchor="end" font-weight="normal" fill="#000" stroke="#000" stroke-width="0.4" >100</text>
<line x1="39.60" y1="510.45" x2="43.20" y2="510.45" stroke="#000" stroke-width="0.7" />
<text transform="translate(37.40,513.15) scale(0.88,1)" font-size="8.0" text-anchor="end" font-weight="normal" fill="#000" stroke="#000" stroke-width="0.4" >200</text>
<line x1="39.60" y1="480.52" x2="43.20" y2="480.52" stroke="#000" stroke-width="0.7" />
<text transform="translate(37.40,483.22) scale(0.88,1)" font-size="8.0" text-anchor="end" font-weight="normal" fill="#000" stroke="#000" stroke-width="0.4" >300</text>
<line x1="39.60" y1="450.60" x2="43.20" y2="450.60" stroke="#000" stroke-width="0.7" />
<text transform="translate(37.40,453.30) scale(0.88,1)" font-size="8.0" text-anchor="end" font-weight="normal" fill="#000" stroke="#000" stroke-width="0.4" >400</text>
<path d="M43.2 570.3v3.4M51.2 570.3v2.5M55.8 570.3v2.5M59.1 570.3v2.5M61.7 570.3v2.5M63.8 570.3v2.5M65.6 570.3v2.5M67.1 570.3v2.5M68.4 570.3v2.5M69.7 570.3v3.4M77.6 570.3v2.5M82.3 570.3v2.5M85.6 570.3v2.5M88.1 570.3v2.5M90.2 570.3v2.5M92.0 570.3v2.5M93.5 570.3v2.5M94.9 570.3v2.5M96.1 570.3v3.4M104.1 570.3v2.5M108.7 570.3v2.5M112.0 570.3v2.5M114.6 570.3v2.5M116.7 570.3v2.5M118.5 570.3v2.5M120.0 570.3v2.5M121.3 570.3v2.5M122.5 570.3v3.4M130.5 570.3v2.5M135.2 570.3v2.5M138.5 570.3v2.5M141.0 570.3v2.5M143.1 570.3v2.5M144.9 570.3v2.5M146.4 570.3v2.5M147.8 570.3v2.5M149.0 570.3v3.4M157.0 570.3v2.5M161.6 570.3v2.5M164.9 570.3v2.5M167.5 570.3v2.5M169.6 570.3v2.5M171.4 570.3v2.5M172.9 570.3v2.5M174.2 570.3v2.5M175.4 570.3v3.4M183.4 570.3v2.5M188.1 570.3v2.5M191.4 570.3v2.5M193.9 570.3v2.5M196.0 570.3v2.5M197.8 570.3v2.5M199.3 570.3v2.5M200.7 570.3v2.5M201.9 570.3v3.4" stroke="#000" stroke-width="0.7" fill="none"/>
<text transform="translate(70.35,581.60) scale(0.88,1)" font-size="8.2" text-anchor="middle" font-weight="normal" fill="#000" stroke="#000" stroke-width="0.4" >1 n<tspan font-size="0.74em">M</tspan></text>
<text transform="translate(96.80,581.60) scale(0.88,1)" font-size="8.2" text-anchor="middle" font-weight="normal" fill="#000" stroke="#000" stroke-width="0.4" >10 n<tspan font-size="0.74em">M</tspan></text>
<text transform="translate(123.25,581.60) scale(0.88,1)" font-size="8.2" text-anchor="middle" font-weight="normal" fill="#000" stroke="#000" stroke-width="0.4" >100 n<tspan font-size="0.74em">M</tspan></text>
<text transform="translate(149.70,581.60) scale(0.88,1)" font-size="8.2" text-anchor="middle" font-weight="normal" fill="#000" stroke="#000" stroke-width="0.4" >1 µ<tspan font-size="0.74em">M</tspan></text>
<text transform="translate(176.15,581.60) scale(0.88,1)" font-size="8.2" text-anchor="middle" font-weight="normal" fill="#000" stroke="#000" stroke-width="0.4" >10 µ<tspan font-size="0.74em">M</tspan></text>
<path d="M95.80 538.20 C98.13 536.43 105.33 532.42 109.80 527.60 C114.27 522.78 116.03 520.67 122.60 509.30 C129.17 497.93 144.77 467.72 149.20 459.40" fill="none" stroke="#000" stroke-width="0.75"/>
<path d="M69.40 540.40 C71.58 540.60 78.10 541.73 82.50 541.60 C86.90 541.47 91.25 541.03 95.80 539.60 C100.35 538.17 105.33 536.20 109.80 533.00 C114.27 529.80 116.03 530.18 122.60 520.40 C129.17 510.62 144.77 481.98 149.20 474.30" fill="none" stroke="#000" stroke-width="0.75"/>
<line x1="122.60" y1="504.40" x2="122.60" y2="514.20" stroke="#1a1a1a" stroke-width="0.75" />
<line x1="120.90" y1="504.40" x2="124.30" y2="504.40" stroke="#1a1a1a" stroke-width="0.75" />
<line x1="120.90" y1="514.20" x2="124.30" y2="514.20" stroke="#1a1a1a" stroke-width="0.75" />
<line x1="122.60" y1="514.90" x2="122.60" y2="526.00" stroke="#1a1a1a" stroke-width="0.75" />
<line x1="120.90" y1="514.90" x2="124.30" y2="514.90" stroke="#1a1a1a" stroke-width="0.75" />
<line x1="120.90" y1="526.00" x2="124.30" y2="526.00" stroke="#1a1a1a" stroke-width="0.75" />
<circle cx="95.80" cy="538.20" r="2.2" fill="#000"/>
<circle cx="122.60" cy="509.30" r="2.2" fill="#000"/>
<circle cx="149.20" cy="459.40" r="2.2" fill="#000"/>
<circle cx="69.40" cy="540.40" r="2.2" fill="#fff" stroke="#000" stroke-width="0.8"/>
<circle cx="95.80" cy="539.60" r="2.2" fill="#fff" stroke="#000" stroke-width="0.8"/>
<circle cx="122.60" cy="520.40" r="2.2" fill="#fff" stroke="#000" stroke-width="0.8"/>
<circle cx="149.20" cy="474.30" r="2.2" fill="#fff" stroke="#000" stroke-width="0.8"/>
<text transform="translate(121.80,591.40) scale(0.9,1)" font-size="7.8" text-anchor="middle" font-weight="normal" fill="#000" stroke="#000" stroke-width="0.4" >GL-II-75</text>
<text transform="translate(13.60,591.40) scale(0.88,1)" font-size="8.6" text-anchor="start" font-weight="bold" fill="#000" stroke="#000" stroke-width="0.4" >k</text>
<text transform="translate(20.60,508.20) rotate(-90) scale(0.955,1)" font-size="7.8" text-anchor="middle" font-weight="normal" fill="#000" stroke="#000" stroke-width="0.4" >% of control current at EC<tspan font-size="0.62em" dy="1.2">3</tspan></text>
<line x1="281.30" y1="535.40" x2="440.30" y2="535.40" stroke="#d0524a" stroke-width="1.15" />
<text transform="translate(438.40,531.30) scale(0.83,1)" font-size="8.0" text-anchor="end" font-weight="normal" fill="#e2887b" stroke="#e2887b" stroke-width="0.4" >120%</text>
<line x1="350.50" y1="498.00" x2="350.50" y2="569.70" stroke="#555" stroke-width="1.3" />
<path d="M349.75 485.80 H351.65 V492.20 H353.00 L350.70 497.20 L348.40 492.20 H349.75 Z" fill="#000"/>
<text transform="translate(352.40,483.20) scale(0.9,1)" font-size="8.0" text-anchor="middle" font-weight="normal" fill="#000" stroke="#000" stroke-width="0.4" >1.5 mg/kg</text>
<line x1="281.50" y1="459.00" x2="281.50" y2="570.10" stroke="#7d7d7d" stroke-width="1.3" />
<line x1="280.90" y1="569.50" x2="440.90" y2="569.50" stroke="#7d7d7d" stroke-width="0.9" />
<line x1="277.70" y1="569.70" x2="281.30" y2="569.70" stroke="#000" stroke-width="0.7" />
<text transform="translate(275.50,572.40) scale(0.88,1)" font-size="8.0" text-anchor="end" font-weight="normal" fill="#000" stroke="#000" stroke-width="0.4" >0</text>
<line x1="277.70" y1="542.12" x2="281.30" y2="542.12" stroke="#000" stroke-width="0.7" />
<text transform="translate(275.50,544.83) scale(0.88,1)" font-size="8.0" text-anchor="end" font-weight="normal" fill="#000" stroke="#000" stroke-width="0.4" >100</text>
<line x1="277.70" y1="514.55" x2="281.30" y2="514.55" stroke="#000" stroke-width="0.7" />
<text transform="translate(275.50,517.25) scale(0.88,1)" font-size="8.0" text-anchor="end" font-weight="normal" fill="#000" stroke="#000" stroke-width="0.4" >200</text>
<line x1="277.70" y1="486.98" x2="281.30" y2="486.98" stroke="#000" stroke-width="0.7" />
<text transform="translate(275.50,489.68) scale(0.88,1)" font-size="8.0" text-anchor="end" font-weight="normal" fill="#000" stroke="#000" stroke-width="0.4" >300</text>
<line x1="277.70" y1="459.40" x2="281.30" y2="459.40" stroke="#000" stroke-width="0.7" />
<text transform="translate(275.50,462.10) scale(0.88,1)" font-size="8.0" text-anchor="end" font-weight="normal" fill="#000" stroke="#000" stroke-width="0.4" >400</text>
<path d="M281.3 569.7v3.4M289.3 569.7v2.5M293.9 569.7v2.5M297.2 569.7v2.5M299.8 569.7v2.5M301.9 569.7v2.5M303.7 569.7v2.5M305.2 569.7v2.5M306.5 569.7v2.5M307.8 569.7v3.4M315.7 569.7v2.5M320.4 569.7v2.5M323.7 569.7v2.5M326.2 569.7v2.5M328.3 569.7v2.5M330.1 569.7v2.5M331.6 569.7v2.5M333.0 569.7v2.5M334.2 569.7v3.4M342.2 569.7v2.5M346.8 569.7v2.5M350.1 569.7v2.5M352.7 569.7v2.5M354.8 569.7v2.5M356.6 569.7v2.5M358.1 569.7v2.5M359.4 569.7v2.5M360.6 569.7v3.4M368.6 569.7v2.5M373.3 569.7v2.5M376.6 569.7v2.5M379.1 569.7v2.5M381.2 569.7v2.5M383.0 569.7v2.5M384.5 569.7v2.5M385.9 569.7v2.5M387.1 569.7v3.4M395.1 569.7v2.5M399.7 569.7v2.5M403.0 569.7v2.5M405.6 569.7v2.5M407.7 569.7v2.5M409.5 569.7v2.5M411.0 569.7v2.5M412.3 569.7v2.5M413.6 569.7v3.4M421.5 569.7v2.5M426.2 569.7v2.5M429.5 569.7v2.5M432.0 569.7v2.5M434.1 569.7v2.5M435.9 569.7v2.5M437.4 569.7v2.5M438.8 569.7v2.5M440.0 569.7v3.4" stroke="#000" stroke-width="0.7" fill="none"/>
<text transform="translate(308.45,581.30) scale(0.88,1)" font-size="8.2" text-anchor="middle" font-weight="normal" fill="#000" stroke="#000" stroke-width="0.4" >1 n<tspan font-size="0.74em">M</tspan></text>
<text transform="translate(334.90,581.30) scale(0.88,1)" font-size="8.2" text-anchor="middle" font-weight="normal" fill="#000" stroke="#000" stroke-width="0.4" >10 n<tspan font-size="0.74em">M</tspan></text>
<text transform="translate(361.35,581.30) scale(0.88,1)" font-size="8.2" text-anchor="middle" font-weight="normal" fill="#000" stroke="#000" stroke-width="0.4" >100 n<tspan font-size="0.74em">M</tspan></text>
<text transform="translate(387.80,581.30) scale(0.88,1)" font-size="8.2" text-anchor="middle" font-weight="normal" fill="#000" stroke="#000" stroke-width="0.4" >1 µ<tspan font-size="0.74em">M</tspan></text>
<text transform="translate(414.25,581.30) scale(0.88,1)" font-size="8.2" text-anchor="middle" font-weight="normal" fill="#000" stroke="#000" stroke-width="0.4" >10 µ<tspan font-size="0.74em">M</tspan></text>
<path d="M307.40 542.10 C309.67 541.85 316.57 541.73 321.00 540.60 C325.43 539.47 327.43 542.37 334.00 535.30 C340.57 528.23 351.57 507.88 360.40 498.20 C369.23 488.52 382.57 480.70 387.00 477.20" fill="none" stroke="#000" stroke-width="0.75"/>
<path d="M307.40 542.10 C309.67 542.42 316.57 544.28 321.00 544.00 C325.43 543.72 327.43 545.55 334.00 540.40 C340.57 535.25 351.57 520.42 360.40 513.10 C369.23 505.78 382.57 499.27 387.00 496.50" fill="none" stroke="#000" stroke-width="0.75"/>
<line x1="360.40" y1="492.00" x2="360.40" y2="504.90" stroke="#1a1a1a" stroke-width="0.75" />
<line x1="358.70" y1="492.00" x2="362.10" y2="492.00" stroke="#1a1a1a" stroke-width="0.75" />
<line x1="358.70" y1="504.90" x2="362.10" y2="504.90" stroke="#1a1a1a" stroke-width="0.75" />
<line x1="387.00" y1="492.20" x2="387.00" y2="500.40" stroke="#1a1a1a" stroke-width="0.75" />
<line x1="385.30" y1="492.20" x2="388.70" y2="492.20" stroke="#1a1a1a" stroke-width="0.75" />
<line x1="385.30" y1="500.40" x2="388.70" y2="500.40" stroke="#1a1a1a" stroke-width="0.75" />
<circle cx="334.00" cy="535.30" r="2.2" fill="#000"/>
<circle cx="360.40" cy="498.20" r="2.2" fill="#000"/>
<circle cx="387.00" cy="477.20" r="2.2" fill="#000"/>
<circle cx="307.40" cy="542.10" r="2.2" fill="#fff" stroke="#000" stroke-width="0.8"/>
<circle cx="334.00" cy="540.40" r="2.2" fill="#fff" stroke="#000" stroke-width="0.8"/>
<circle cx="360.40" cy="513.10" r="2.2" fill="#fff" stroke="#000" stroke-width="0.8"/>
<circle cx="387.00" cy="496.50" r="2.2" fill="#fff" stroke="#000" stroke-width="0.8"/>
<text transform="translate(360.50,592.40) scale(0.9,1)" font-size="7.8" text-anchor="middle" font-weight="normal" fill="#000" stroke="#000" stroke-width="0.4" >DZP</text>
<text transform="translate(252.00,592.60) scale(0.88,1)" font-size="8.6" text-anchor="start" font-weight="bold" fill="#000" stroke="#000" stroke-width="0.4" >l</text>
<text transform="translate(258.00,514.50) rotate(-90) scale(0.915,1)" font-size="7.8" text-anchor="middle" font-weight="normal" fill="#000" stroke="#000" stroke-width="0.4" >% of control current at EC<tspan font-size="0.62em" dy="1.2">3</tspan></text>
<line x1="281.30" y1="522.60" x2="343.00" y2="522.60" stroke="#efe6dc" stroke-width="0.6" />
</svg>
</body></html>
